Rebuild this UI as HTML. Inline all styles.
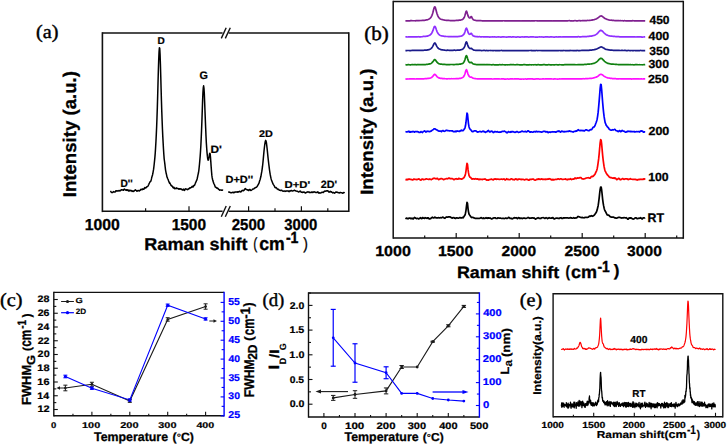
<!DOCTYPE html>
<html><head><meta charset="utf-8"><style>
html,body{margin:0;padding:0;background:#fff;width:727px;height:445px;overflow:hidden}
svg{display:block} text{text-rendering:geometricPrecision}
</style></head><body>
<svg width="727" height="445" viewBox="0 0 727 445">
<rect width="727" height="445" fill="#fff"/>
<line x1="102.4" y1="32.2" x2="102.4" y2="212.1" stroke="#111" stroke-width="1.6" stroke-linecap="butt"/>
<line x1="348.8" y1="32.2" x2="348.8" y2="212.1" stroke="#111" stroke-width="1.6" stroke-linecap="butt"/>
<line x1="102.4" y1="33" x2="222.6" y2="33" stroke="#111" stroke-width="1.6" stroke-linecap="butt"/>
<line x1="228.6" y1="33" x2="348.8" y2="33" stroke="#111" stroke-width="1.6" stroke-linecap="butt"/>
<line x1="102.4" y1="211.3" x2="222.6" y2="211.3" stroke="#111" stroke-width="1.6" stroke-linecap="butt"/>
<line x1="228.6" y1="211.3" x2="348.8" y2="211.3" stroke="#111" stroke-width="1.6" stroke-linecap="butt"/>
<line x1="221.3" y1="38.4" x2="226.2" y2="27.7" stroke="#111" stroke-width="1.4" stroke-linecap="butt"/>
<line x1="225.3" y1="38.4" x2="230.3" y2="27.7" stroke="#111" stroke-width="1.4" stroke-linecap="butt"/>
<line x1="221.3" y1="216.7" x2="226.2" y2="206" stroke="#111" stroke-width="1.4" stroke-linecap="butt"/>
<line x1="225.3" y1="216.7" x2="230.3" y2="206" stroke="#111" stroke-width="1.4" stroke-linecap="butt"/>
<line x1="145.6" y1="211.3" x2="145.6" y2="208.3" stroke="#111" stroke-width="1.2" stroke-linecap="butt"/>
<line x1="189" y1="211.3" x2="189" y2="206.3" stroke="#111" stroke-width="1.2" stroke-linecap="butt"/>
<line x1="248.6" y1="211.3" x2="248.6" y2="206.3" stroke="#111" stroke-width="1.2" stroke-linecap="butt"/>
<line x1="275" y1="211.3" x2="275" y2="208.3" stroke="#111" stroke-width="1.2" stroke-linecap="butt"/>
<line x1="301.4" y1="211.3" x2="301.4" y2="206.3" stroke="#111" stroke-width="1.2" stroke-linecap="butt"/>
<line x1="327.8" y1="211.3" x2="327.8" y2="208.3" stroke="#111" stroke-width="1.2" stroke-linecap="butt"/>
<g id="a_t1000" transform="matrix(1.05 0 0 1.06 84.71 229.75)"><text x="0" y="0" font-size="15" font-weight="bold" fill="#000" font-family='"Liberation Sans", sans-serif' stroke="#000" stroke-width="0.3">1000</text></g>
<g id="a_t1500" transform="matrix(1.03 0 0 1.06 171.63 229.75)"><text x="0" y="0" font-size="15" font-weight="bold" fill="#000" font-family='"Liberation Sans", sans-serif' stroke="#000" stroke-width="0.3">1500</text></g>
<g id="a_t2500" transform="matrix(1 0 0 1.06 231.73 229.75)"><text x="0" y="0" font-size="15" font-weight="bold" fill="#000" font-family='"Liberation Sans", sans-serif' stroke="#000" stroke-width="0.3">2500</text></g>
<g id="a_t3000" transform="matrix(0.99 0 0 1.06 284.29 229.75)"><text x="0" y="0" font-size="15" font-weight="bold" fill="#000" font-family='"Liberation Sans", sans-serif' stroke="#000" stroke-width="0.3">3000</text></g>
<g id="a_xl1" transform="matrix(1.06 0 0 1.01 144.35 250.28)"><text x="0" y="0" font-size="17" font-weight="bold" fill="#000" font-family='"Liberation Sans", sans-serif' stroke="#000" stroke-width="0.3">Raman shift</text></g>
<g id="a_xl2" transform="matrix(0.72 0 0 0.95 253.28 249.32)"><text x="0" y="0" font-size="17" font-weight="normal" fill="#000" font-family='"Liberation Sans", sans-serif' stroke="#000" stroke-width="0.3">(</text></g>
<g id="a_xl3" transform="matrix(1.04 0 0 1.09 259.18 250.32)"><text x="0" y="0" font-size="17" font-weight="bold" fill="#000" font-family='"Liberation Sans", sans-serif' stroke="#000" stroke-width="0.3">cm</text></g>
<g id="a_xl4" transform="matrix(1.09 0 0 1.25 285.89 243.29)"><text x="0" y="0" font-size="13" font-weight="bold" fill="#000" font-family='"Liberation Sans", sans-serif' stroke="#000" stroke-width="0.3">-1</text></g>
<g id="a_xl5" transform="matrix(0.82 0 0 0.96 303.16 249.39)"><text x="0" y="0" font-size="17" font-weight="normal" fill="#000" font-family='"Liberation Sans", sans-serif' stroke="#000" stroke-width="0.3">)</text></g>
<g id="a_yl" transform="matrix(0.97 0 0 0.98 76.39 197.23)"><text x="0" y="0" transform="rotate(-90)" font-size="19" font-weight="bold" fill="#000" font-family='"Liberation Sans", sans-serif' stroke="#000" stroke-width="0.3">Intensity (a.u.)</text></g>
<g id="a_lab" transform="matrix(1.01 0 0 0.95 36.06 38.15)"><text x="0" y="0" font-size="20" font-weight="normal" fill="#000" font-family='"Liberation Serif", serif' stroke="#000" stroke-width="0.45">(a)</text></g>
<polyline points="110.36,191.02 110.7,191.33 111.04,191.82 111.39,192.43 111.73,192.42 112.07,192.46 112.42,192.52 112.76,192.46 113.1,192.14 113.44,191.62 113.79,191.86 114.13,191.86 114.47,191.98 114.81,192.09 115.16,191.92 115.5,191.78 115.84,190.76 116.19,190.8 116.53,190.86 116.87,191.1 117.21,191.04 117.56,190.71 117.9,191.04 118.24,190.97 118.59,190.86 118.93,190.51 119.27,190.45 119.61,190.88 119.96,190.85 120.3,190.76 120.64,190.21 120.99,190.16 121.33,189.8 121.67,189.89 122.01,189.79 122.36,189.8 122.7,189.97 123.04,190.05 123.39,190.29 123.73,189.48 124.07,189.38 124.41,189.09 124.76,189.44 125.1,189.52 125.44,190.11 125.79,190.08 126.13,190.18 126.47,189.68 126.81,190.32 127.16,190.41 127.5,190.34 127.84,189.73 128.19,190.01 128.53,190.72 128.87,191.15 129.21,190.69 129.56,190.36 129.9,190.31 130.24,190.78 130.59,190.7 130.93,190.52 131.27,190.4 131.61,190.92 131.96,191.4 132.3,191.1 132.64,191.18 132.99,191.01 133.33,191.44 133.67,191.03 134.01,191.05 134.36,190.79 134.7,190.36 135.04,190.17 135.39,189.81 135.73,190.19 136.07,190.38 136.41,190.58 136.76,191.22 137.1,191.06 137.44,191.07 137.79,190.62 138.13,190.44 138.47,190.56 138.81,190.8 139.16,190.9 139.5,190.94 139.84,190.38 140.19,190.28 140.53,189.64 140.87,189.39 141.21,189.26 141.56,189.37 141.9,189.74 142.24,189.31 142.59,189.55 142.93,188.85 143.27,189.31 143.61,189.13 143.96,189.18 144.3,188.25 144.64,187.65 144.99,187.5 145.33,187.84 145.67,188.07 146.01,187.69 146.36,187.5 146.7,186.75 147.04,186.77 147.39,186.38 147.73,186.42 148.07,185.87 148.41,185.18 148.76,184.48 149.1,183.65 149.44,182.98 149.79,182.12 150.13,181.94 150.47,181.36 150.81,181.27 151.16,180.03 151.5,178.67 151.84,177.15 152.19,175.95 152.53,174.95 152.87,173.27 153.21,171.33 153.56,169.45 153.9,166.77 154.24,163.77 154.59,160.43 154.93,156.89 155.27,152.61 155.61,147.24 155.96,141.31 156.3,134.4 156.64,126.69 156.98,117.81 157.33,107.61 157.67,95.7 158.01,82.9 158.36,70.56 158.7,60.07 159.04,52.13 159.38,47.81 159.73,48.29 160.07,54.21 160.41,63.99 160.76,76.23 161.1,88.68 161.44,100.71 161.78,111.53 162.13,121.01 162.47,129.5 162.81,136.87 163.16,143.28 163.5,149.29 163.84,154.54 164.18,158.82 164.53,161.52 164.87,164.18 165.21,167.21 165.56,170.1 165.9,171.83 166.24,173.55 166.58,174.94 166.93,176.81 167.27,177.44 167.61,178.53 167.96,179.26 168.3,179.94 168.64,181.01 168.98,181.96 169.33,182.63 169.67,183.32 170.01,183.12 170.36,184.07 170.7,184.54 171.04,185.49 171.38,185.81 171.73,185.84 172.07,186.19 172.41,186.24 172.76,187.13 173.1,187.46 173.44,188.02 173.78,187.19 174.13,187.74 174.47,187.94 174.81,188.84 175.16,188.66 175.5,188.55 175.84,188.3 176.18,187.89 176.53,188.31 176.87,188.45 177.21,188.61 177.56,188.32 177.9,188.56 178.24,188.64 178.58,189.17 178.93,188.69 179.27,188.99 179.61,188.84 179.96,189.27 180.3,189.14 180.64,188.71 180.98,188.84 181.33,189.17 181.67,189.49 182.01,189.68 182.36,190.03 182.7,189.97 183.04,189.85 183.38,189.15 183.73,189.61 184.07,190.23 184.41,190.42 184.76,190.11 185.1,188.96 185.44,188.87 185.78,188.79 186.13,189.01 186.47,189.18 186.81,189.19 187.16,189.61 187.5,189.32 187.84,189.47 188.18,189.16 188.53,189.03 188.87,188.5 189.21,188.53 189.56,188.09 189.9,188.34 190.24,187.74 190.58,187.85 190.93,187.47 191.27,187.45 191.61,187.04 191.96,186.65 192.3,186.34 192.64,186.98 192.98,187.1 193.33,186.59 193.67,185.73 194.01,185.39 194.36,185.4 194.7,185.04 195.04,184.09 195.38,183.23 195.73,182.23 196.07,181.84 196.41,180.83 196.75,180.23 197.1,178.99 197.44,177.53 197.78,175.93 198.13,174.21 198.47,172.75 198.81,170.6 199.15,167.52 199.5,164.01 199.84,160.07 200.18,156.08 200.53,151.05 200.87,145.22 201.21,138.12 201.55,130.2 201.9,121.14 202.24,111.22 202.58,101.38 202.93,92.79 203.27,87.92 203.61,85.82 203.95,88 204.3,93.28 204.64,101.86 204.98,111.01 205.33,119.9 205.67,128.31 206.01,136.18 206.35,142.95 206.7,148.31 207.04,152.66 207.38,156.16 207.73,158.82 208.07,160.13 208.41,160.06 208.75,158.45 209.1,156.83 209.44,154.35 209.78,153.32 210.13,153.71 210.47,157.02 210.81,161.62 211.15,166.62 211.5,171.23 211.84,175.17 212.18,177.7 212.53,179.26 212.87,180.58 213.21,181.67 213.55,182.87 213.9,183.58 214.24,184.23 214.58,185.08 214.93,185.94 215.27,186.99 215.61,187.15 215.95,187.42 216.3,187.54 216.64,187.87 216.98,188.25 217.33,187.98 217.67,188.25 218.01,188.39 218.35,189.18 218.7,189.26 219.04,189.58 219.38,189.74 219.73,190.15 220.07,189.93 220.41,189.89 220.75,189.91 221.1,190.15 221.44,190.29 221.78,190.16 222.13,190 222.47,190.16 222.81,190.13 223.15,190.21" fill="none" stroke="#000" stroke-width="1.5" stroke-linejoin="round"/>
<polyline points="228.22,191.82 228.61,191.89 229,192.32 229.39,192.01 229.78,192.35 230.17,192.45 230.56,192.75 230.95,192.67 231.34,192.74 231.73,192.68 232.11,192.5 232.5,192.49 232.89,192.29 233.28,192.32 233.67,192.75 234.06,192.57 234.45,192.52 234.84,192 235.23,192.15 235.62,192 236.01,191.81 236.4,191.99 236.79,191.96 237.18,192.24 237.57,191.73 237.96,191.97 238.35,191.65 238.74,191.87 239.13,191.51 239.52,191.44 239.91,191.26 240.3,191.93 240.68,191.82 241.07,191.86 241.46,191.11 241.85,190.62 242.24,190.61 242.63,190.35 243.02,190.84 243.41,190.36 243.8,190.44 244.19,190.11 244.58,189.49 244.97,188.86 245.36,188.45 245.75,188.86 246.14,189.33 246.53,189.63 246.92,189.71 247.31,189.98 247.7,189.84 248.09,190.39 248.48,190.03 248.87,190.38 249.26,189.72 249.64,189.56 250.03,189.43 250.42,190.15 250.81,190.48 251.2,190.32 251.59,190.06 251.98,189.75 252.37,189.42 252.76,189.1 253.15,189.1 253.54,188.97 253.93,188.82 254.32,188.34 254.71,188.32 255.1,187.67 255.49,187.59 255.88,187.41 256.27,187.34 256.66,186.99 257.05,186.49 257.44,186 257.83,185.12 258.21,184.69 258.6,183.91 258.99,183.22 259.38,181.82 259.77,180.51 260.16,179.44 260.55,177.78 260.94,176.26 261.33,173.99 261.72,171.89 262.11,169.3 262.5,166.46 262.89,162.99 263.28,158.82 263.67,154.58 264.06,150.49 264.45,146.98 264.84,144.02 265.23,141.74 265.62,140.37 266.01,140.93 266.4,142.65 266.79,145.75 267.17,149.05 267.56,153.02 267.95,156.93 268.34,160.34 268.73,163.74 269.12,166.83 269.51,169.99 269.9,172.52 270.29,174.94 270.68,176.79 271.07,178.65 271.46,179.94 271.85,180.93 272.24,181.93 272.63,182.94 273.02,183.93 273.41,184.62 273.8,185.12 274.19,185.76 274.58,186.51 274.97,187.36 275.36,187.68 275.74,187.68 276.13,187.58 276.52,187.98 276.91,188.33 277.3,189.12 277.69,189.12 278.08,189.55 278.47,189.21 278.86,189.89 279.25,190 279.64,190.33 280.03,190.31 280.42,190.45 280.81,190.41 281.2,190.29 281.59,190.17 281.98,190.51 282.37,190.89 282.76,191.14 283.15,191.25 283.54,191.15 283.93,190.96 284.32,190.94 284.7,191.15 285.09,191.47 285.48,191.21 285.87,191.05 286.26,190.91 286.65,191.13 287.04,191.06 287.43,191.09 287.82,190.92 288.21,190.87 288.6,191.46 288.99,191.7 289.38,191.24 289.77,190.89 290.16,190.78 290.55,191.09 290.94,190.75 291.33,190.42 291.72,190.78 292.11,190.91 292.5,191.1 292.89,190.88 293.27,190.75 293.66,190.55 294.05,190.35 294.44,190.18 294.83,190.47 295.22,190.61 295.61,190.79 296,191.01 296.39,191.11 296.78,191.16 297.17,191.13 297.56,191.21 297.95,191.61 298.34,191.75 298.73,192.07 299.12,191.65 299.51,191.58 299.9,191.11 300.29,191.11 300.68,191.33 301.07,192.01 301.46,192.27 301.85,192.28 302.23,192.12 302.62,192.46 303.01,192.3 303.4,192.26 303.79,191.99 304.18,192.06 304.57,192.3 304.96,192.84 305.35,192.97 305.74,192.93 306.13,192.61 306.52,192.37 306.91,192.28 307.3,191.88 307.69,192.05 308.08,191.9 308.47,192.11 308.86,191.99 309.25,192.39 309.64,192.28 310.03,192.42 310.42,192.37 310.8,192.48 311.19,192.43 311.58,191.99 311.97,191.97 312.36,191.97 312.75,192.56 313.14,192.37 313.53,192.15 313.92,191.67 314.31,191.92 314.7,191.97 315.09,192.3 315.48,192.25 315.87,192.49 316.26,192.52 316.65,192.59 317.04,192.52 317.43,191.97 317.82,191.85 318.21,192.24 318.6,192.97 318.99,193.16 319.37,192.87 319.76,192.66 320.15,192.92 320.54,192.9 320.93,192.92 321.32,192.74 321.71,192.49 322.1,192.17 322.49,192.14 322.88,192.47 323.27,192.48 323.66,191.89 324.05,191.64 324.44,191.11 324.83,191.43 325.22,191.16 325.61,191.13 326,190.91 326.39,190.69 326.78,191.05 327.17,190.84 327.56,190.8 327.95,190.89 328.33,191.22 328.72,191.75 329.11,192.23 329.5,191.87 329.89,191.78 330.28,191.28 330.67,191.83 331.06,191.99 331.45,191.73 331.84,192.22 332.23,192.35 332.62,192.94 333.01,192.65 333.4,192.47 333.79,192.55 334.18,192.79 334.57,193.17 334.96,192.95 335.35,192.5 335.74,192.13 336.13,191.91 336.52,192.21 336.9,192.18 337.29,192.37 337.68,192.31 338.07,192.66 338.46,192.63 338.85,192.74 339.24,192.65 339.63,193.02 340.02,192.54 340.41,192.5 340.8,192.41 341.19,192.81 341.58,192.85 341.97,192.73 342.36,193.03 342.75,193.22 343.14,193.14 343.53,192.58 343.92,192.55 344.31,192.64 344.7,192.94" fill="none" stroke="#000" stroke-width="1.5" stroke-linejoin="round"/>
<g id="a_pD" transform="matrix(0.96 0 0 0.94 157.49 43.71)"><text x="0" y="0" font-size="10.5" font-weight="bold" fill="#000" font-family='"Liberation Sans", sans-serif' stroke="#000" stroke-width="0.22">D</text></g>
<g id="a_pG" transform="matrix(1.03 0 0 1.04 199.48 79.03)"><text x="0" y="0" font-size="10.5" font-weight="bold" fill="#000" font-family='"Liberation Sans", sans-serif' stroke="#000" stroke-width="0.22">G</text></g>
<g id="a_pDpp" transform="matrix(0.97 0 0 1.01 120.38 187.45)"><text x="0" y="0" font-size="10.5" font-weight="bold" fill="#000" font-family='"Liberation Sans", sans-serif' stroke="#000" stroke-width="0.22">D''</text></g>
<g id="a_pDp" transform="matrix(1.13 0 0 1.01 210.38 153.42)"><text x="0" y="0" font-size="10.5" font-weight="bold" fill="#000" font-family='"Liberation Sans", sans-serif' stroke="#000" stroke-width="0.22">D'</text></g>
<g id="a_p2D" transform="matrix(1.03 0 0 0.91 258.97 137.11)"><text x="0" y="0" font-size="10.5" font-weight="bold" fill="#000" font-family='"Liberation Sans", sans-serif' stroke="#000" stroke-width="0.22">2D</text></g>
<g id="a_pDDpp" transform="matrix(1.05 0 0 0.99 225.44 182.76)"><text x="0" y="0" font-size="10.5" font-weight="bold" fill="#000" font-family='"Liberation Sans", sans-serif' stroke="#000" stroke-width="0.22">D+D''</text></g>
<g id="a_pDDp" transform="matrix(1.08 0 0 0.94 284.54 188.32)"><text x="0" y="0" font-size="10.5" font-weight="bold" fill="#000" font-family='"Liberation Sans", sans-serif' stroke="#000" stroke-width="0.22">D+D'</text></g>
<g id="a_p2Dp" transform="matrix(1.03 0 0 1.01 320.75 187.76)"><text x="0" y="0" font-size="10.5" font-weight="bold" fill="#000" font-family='"Liberation Sans", sans-serif' stroke="#000" stroke-width="0.22">2D'</text></g>
<line x1="393.2" y1="0.8" x2="393.2" y2="238.8" stroke="#111" stroke-width="1.5" stroke-linecap="butt"/>
<line x1="683.3" y1="0.8" x2="683.3" y2="238.8" stroke="#111" stroke-width="1.5" stroke-linecap="butt"/>
<line x1="393.2" y1="1.6" x2="683.3" y2="1.6" stroke="#111" stroke-width="1.5" stroke-linecap="butt"/>
<line x1="393.2" y1="238" x2="683.3" y2="238" stroke="#111" stroke-width="1.5" stroke-linecap="butt"/>
<line x1="424.7" y1="238" x2="424.7" y2="235.5" stroke="#111" stroke-width="1.2" stroke-linecap="butt"/>
<line x1="456.2" y1="238" x2="456.2" y2="233" stroke="#111" stroke-width="1.2" stroke-linecap="butt"/>
<line x1="487.7" y1="238" x2="487.7" y2="235.5" stroke="#111" stroke-width="1.2" stroke-linecap="butt"/>
<line x1="519.2" y1="238" x2="519.2" y2="233" stroke="#111" stroke-width="1.2" stroke-linecap="butt"/>
<line x1="550.7" y1="238" x2="550.7" y2="235.5" stroke="#111" stroke-width="1.2" stroke-linecap="butt"/>
<line x1="582.2" y1="238" x2="582.2" y2="233" stroke="#111" stroke-width="1.2" stroke-linecap="butt"/>
<line x1="613.7" y1="238" x2="613.7" y2="235.5" stroke="#111" stroke-width="1.2" stroke-linecap="butt"/>
<line x1="645.2" y1="238" x2="645.2" y2="233" stroke="#111" stroke-width="1.2" stroke-linecap="butt"/>
<line x1="676.7" y1="238" x2="676.7" y2="235.5" stroke="#111" stroke-width="1.2" stroke-linecap="butt"/>
<g id="b_t1000" transform="matrix(1.07 0 0 0.97 375.18 256.07)"><text x="0" y="0" font-size="15" font-weight="bold" fill="#000" font-family='"Liberation Sans", sans-serif' stroke="#000" stroke-width="0.3">1000</text></g>
<g id="b_t1500" transform="matrix(1.06 0 0 0.97 437.92 256.07)"><text x="0" y="0" font-size="15" font-weight="bold" fill="#000" font-family='"Liberation Sans", sans-serif' stroke="#000" stroke-width="0.3">1500</text></g>
<g id="b_t2000" transform="matrix(1.04 0 0 0.97 501.49 256.07)"><text x="0" y="0" font-size="15" font-weight="bold" fill="#000" font-family='"Liberation Sans", sans-serif' stroke="#000" stroke-width="0.3">2000</text></g>
<g id="b_t2500" transform="matrix(1.05 0 0 0.97 564.44 256.07)"><text x="0" y="0" font-size="15" font-weight="bold" fill="#000" font-family='"Liberation Sans", sans-serif' stroke="#000" stroke-width="0.3">2500</text></g>
<g id="b_t3000" transform="matrix(1.04 0 0 0.97 627.1 256.07)"><text x="0" y="0" font-size="15" font-weight="bold" fill="#000" font-family='"Liberation Sans", sans-serif' stroke="#000" stroke-width="0.3">3000</text></g>
<g id="b_xl1" transform="matrix(1.05 0 0 0.98 456.95 278.08)"><text x="0" y="0" font-size="17" font-weight="bold" fill="#000" font-family='"Liberation Sans", sans-serif' stroke="#000" stroke-width="0.3">Raman shift</text></g>
<g id="b_xl2" transform="matrix(0.8 0 0 0.95 565.43 276.82)"><text x="0" y="0" font-size="17" font-weight="bold" fill="#000" font-family='"Liberation Sans", sans-serif' stroke="#000" stroke-width="0.3">(</text></g>
<g id="b_xl3" transform="matrix(1.06 0 0 1.05 571.03 277.82)"><text x="0" y="0" font-size="17" font-weight="bold" fill="#000" font-family='"Liberation Sans", sans-serif' stroke="#000" stroke-width="0.3">cm</text></g>
<g id="b_xl4" transform="matrix(1.07 0 0 1.23 597.49 272.01)"><text x="0" y="0" font-size="13" font-weight="bold" fill="#000" font-family='"Liberation Sans", sans-serif' stroke="#000" stroke-width="0.3">-1</text></g>
<g id="b_xl5" transform="matrix(1.01 0 0 0.97 613.87 276.45)"><text x="0" y="0" font-size="17" font-weight="bold" fill="#000" font-family='"Liberation Sans", sans-serif' stroke="#000" stroke-width="0.3">)</text></g>
<g id="b_yl" transform="matrix(0.94 0 0 0.98 372.74 194.83)"><text x="0" y="0" transform="rotate(-90)" font-size="19" font-weight="bold" fill="#000" font-family='"Liberation Sans", sans-serif' stroke="#000" stroke-width="0.3">Intensity (a.u.)</text></g>
<g id="b_lab" transform="matrix(1.05 0 0 1 364.19 39.53)"><text x="0" y="0" font-size="20" font-weight="normal" fill="#000" font-family='"Liberation Serif", serif' stroke="#000" stroke-width="0.45">(b)</text></g>
<polyline points="405.42,20.88 405.92,20.87 406.42,20.85 406.92,20.8 407.42,20.84 407.92,20.83 408.43,20.87 408.93,20.84 409.43,20.83 409.93,20.81 410.43,20.69 410.93,20.67 411.43,20.66 411.93,20.71 412.43,20.75 412.93,20.76 413.43,20.77 413.93,20.74 414.43,20.75 414.93,20.77 415.43,20.79 415.93,20.71 416.43,20.64 416.94,20.49 417.44,20.53 417.94,20.56 418.44,20.64 418.94,20.6 419.44,20.57 419.94,20.52 420.44,20.52 420.94,20.55 421.44,20.49 421.94,20.47 422.44,20.35 422.94,20.37 423.44,20.31 423.94,20.35 424.44,20.32 424.94,20.24 425.45,20.09 425.95,19.98 426.45,19.89 426.95,19.85 427.45,19.7 427.95,19.56 428.45,19.33 428.95,19.07 429.45,18.75 429.95,18.36 430.45,17.9 430.95,17.27 431.45,16.44 431.95,15.37 432.45,14.02 432.95,12.3 433.45,10.29 433.96,8.3 434.46,6.98 434.96,6.85 435.46,7.94 435.96,9.78 436.46,11.7 436.96,13.49 437.46,14.91 437.96,16.1 438.46,16.98 438.96,17.7 439.46,18.26 439.96,18.67 440.46,19 440.96,19.23 441.46,19.42 441.96,19.51 442.46,19.63 442.97,19.8 443.47,19.93 443.97,19.99 444.47,20.03 444.97,20.15 445.47,20.25 445.97,20.28 446.47,20.33 446.97,20.35 447.47,20.38 447.97,20.33 448.47,20.38 448.97,20.45 449.47,20.51 449.97,20.54 450.47,20.54 450.97,20.57 451.48,20.52 451.98,20.57 452.48,20.56 452.98,20.61 453.48,20.57 453.98,20.63 454.48,20.57 454.98,20.57 455.48,20.48 455.98,20.45 456.48,20.43 456.98,20.4 457.48,20.41 457.98,20.35 458.48,20.3 458.98,20.21 459.48,20.18 459.99,20.17 460.49,20.1 460.99,20.02 461.49,19.83 461.99,19.65 462.49,19.41 462.99,19.05 463.49,18.56 463.99,17.81 464.49,16.82 464.99,15.32 465.49,13.42 465.99,11.68 466.49,11.16 466.99,12.24 467.49,14.04 467.99,15.63 468.5,16.83 469,17.52 469.5,17.99 470,18.01 470.5,17.53 471,16.63 471.5,16.6 472,17.69 472.5,18.7 473,19.26 473.5,19.8 474,20.04 474.5,20.21 475,20.26 475.5,20.39 476,20.51 476.5,20.6 477,20.62 477.51,20.56 478.01,20.53 478.51,20.56 479.01,20.61 479.51,20.63 480.01,20.59 480.51,20.61 481.01,20.69 481.51,20.76 482.01,20.78 482.51,20.78 483.01,20.84 483.51,20.81 484.01,20.81 484.51,20.78 485.01,20.84 485.51,20.78 486.02,20.8 486.52,20.79 487.02,20.88 487.52,20.91 488.02,20.86 488.52,20.85 489.02,20.78 489.52,20.8 490.02,20.76 490.52,20.79 491.02,20.8 491.52,20.78 492.02,20.79 492.52,20.83 493.02,20.88 493.52,20.84 494.02,20.83 494.53,20.82 495.03,20.88 495.53,20.81 496.03,20.84 496.53,20.79 497.03,20.86 497.53,20.83 498.03,20.91 498.53,20.87 499.03,20.9 499.53,20.91 500.03,20.91 500.53,20.92 501.03,20.85 501.53,20.94 502.03,20.86 502.53,20.89 503.04,20.74 503.54,20.77 504.04,20.77 504.54,20.83 505.04,20.87 505.54,20.85 506.04,20.85 506.54,20.88 507.04,20.91 507.54,20.89 508.04,20.84 508.54,20.82 509.04,20.82 509.54,20.9 510.04,20.91 510.54,20.87 511.04,20.78 511.55,20.8 512.05,20.88 512.55,20.92 513.05,20.85 513.55,20.82 514.05,20.79 514.55,20.85 515.05,20.82 515.55,20.87 516.05,20.94 516.55,20.97 517.05,20.93 517.55,20.95 518.05,20.95 518.55,20.95 519.05,20.87 519.55,20.87 520.05,20.94 520.56,20.97 521.06,20.99 521.56,20.9 522.06,20.87 522.56,20.82 523.06,20.89 523.56,20.95 524.06,20.95 524.56,20.9 525.06,20.83 525.56,20.85 526.06,20.87 526.56,20.88 527.06,20.89 527.56,20.88 528.06,20.87 528.56,20.79 529.07,20.79 529.57,20.87 530.07,20.94 530.57,21.03 531.07,20.95 531.57,20.88 532.07,20.77 532.57,20.83 533.07,20.92 533.57,20.94 534.07,20.9 534.57,20.84 535.07,20.78 535.57,20.73 536.07,20.74 536.57,20.74 537.07,20.89 537.58,20.94 538.08,20.98 538.58,20.93 539.08,20.9 539.58,20.9 540.08,20.84 540.58,20.82 541.08,20.82 541.58,20.85 542.08,20.84 542.58,20.81 543.08,20.82 543.58,20.82 544.08,20.85 544.58,20.84 545.08,20.89 545.58,20.92 546.09,20.93 546.59,20.88 547.09,20.84 547.59,20.8 548.09,20.82 548.59,20.87 549.09,20.89 549.59,20.95 550.09,20.88 550.59,20.84 551.09,20.8 551.59,20.85 552.09,20.98 552.59,20.95 553.09,20.95 553.59,20.87 554.09,20.84 554.59,20.83 555.1,20.8 555.6,20.78 556.1,20.79 556.6,20.8 557.1,20.88 557.6,20.92 558.1,20.99 558.6,20.89 559.1,20.86 559.6,20.85 560.1,20.92 560.6,20.88 561.1,20.82 561.6,20.78 562.1,20.78 562.6,20.82 563.1,20.88 563.61,20.91 564.11,20.92 564.61,20.91 565.11,20.87 565.61,20.81 566.11,20.77 566.61,20.78 567.11,20.78 567.61,20.83 568.11,20.77 568.61,20.77 569.11,20.67 569.61,20.72 570.11,20.78 570.61,20.78 571.11,20.79 571.61,20.78 572.12,20.91 572.62,20.97 573.12,20.93 573.62,20.83 574.12,20.77 574.62,20.72 575.12,20.74 575.62,20.69 576.12,20.78 576.62,20.81 577.12,20.86 577.62,20.8 578.12,20.76 578.62,20.72 579.12,20.72 579.62,20.72 580.12,20.7 580.63,20.79 581.13,20.76 581.63,20.74 582.13,20.61 582.63,20.62 583.13,20.65 583.63,20.71 584.13,20.67 584.63,20.65 585.13,20.57 585.63,20.57 586.13,20.56 586.63,20.56 587.13,20.5 587.63,20.44 588.13,20.47 588.63,20.48 589.13,20.46 589.64,20.36 590.14,20.32 590.64,20.24 591.14,20.21 591.64,20.14 592.14,20.06 592.64,19.94 593.14,19.83 593.64,19.75 594.14,19.6 594.64,19.43 595.14,19.25 595.64,19.15 596.14,19 596.64,18.77 597.14,18.41 597.64,18.06 598.15,17.7 598.65,17.3 599.15,16.88 599.65,16.48 600.15,16.2 600.65,16.02 601.15,15.96 601.65,16.04 602.15,16.29 602.65,16.69 603.15,17.11 603.65,17.53 604.15,17.9 604.65,18.29 605.15,18.61 605.65,18.82 606.15,19.02 606.66,19.17 607.16,19.36 607.66,19.53 608.16,19.77 608.66,19.91 609.16,19.99 609.66,20.06 610.16,20.18 610.66,20.23 611.16,20.22 611.66,20.21 612.16,20.33 612.66,20.37 613.16,20.44 613.66,20.42 614.16,20.52 614.66,20.55 615.17,20.67 615.67,20.68 616.17,20.71 616.67,20.66 617.17,20.66 617.67,20.68 618.17,20.68 618.67,20.68 619.17,20.71 619.67,20.73 620.17,20.69 620.67,20.66 621.17,20.73 621.67,20.74 622.17,20.72 622.67,20.76 623.17,20.8 623.68,20.85 624.18,20.7 624.68,20.71 625.18,20.74 625.68,20.8 626.18,20.77 626.68,20.79 627.18,20.82 627.68,20.87 628.18,20.78 628.68,20.77 629.18,20.79 629.68,20.81 630.18,20.83 630.68,20.86 631.18,20.91 631.68,20.89 632.18,20.8 632.69,20.69 633.19,20.72 633.69,20.73 634.19,20.86 634.69,20.82 635.19,20.88 635.69,20.86 636.19,20.89 636.69,20.88 637.19,20.76 637.69,20.8 638.19,20.83 638.69,20.94 639.19,20.88 639.69,20.87 640.19,20.82 640.69,20.82 641.2,20.84 641.7,20.86 642.2,20.9 642.7,20.83 643.2,20.84 643.7,20.82 644.2,20.85 644.7,20.84 645.2,20.86" fill="none" stroke="#7f1f8f" stroke-width="1.7" stroke-linejoin="round"/>
<g id="b_s450" transform="matrix(0.96 0 0 0.94 649.46 24.47)"><text x="0" y="0" font-size="12.5" font-weight="bold" fill="#000" font-family='"Liberation Sans", sans-serif' stroke="#000" stroke-width="0.3">450</text></g>
<polyline points="405.42,36.97 405.92,36.92 406.42,36.89 406.92,36.95 407.42,36.98 407.92,36.94 408.43,36.86 408.93,36.9 409.43,36.95 409.93,36.96 410.43,36.9 410.93,36.8 411.43,36.79 411.93,36.8 412.43,36.86 412.93,36.8 413.43,36.8 413.93,36.81 414.43,36.93 414.93,36.91 415.43,36.87 415.93,36.84 416.43,36.83 416.94,36.82 417.44,36.78 417.94,36.73 418.44,36.72 418.94,36.79 419.44,36.79 419.94,36.82 420.44,36.75 420.94,36.81 421.44,36.74 421.94,36.74 422.44,36.65 422.94,36.51 423.44,36.46 423.94,36.4 424.44,36.51 424.94,36.47 425.45,36.42 425.95,36.31 426.45,36.21 426.95,36.14 427.45,36.06 427.95,35.93 428.45,35.8 428.95,35.52 429.45,35.32 429.95,34.98 430.45,34.67 430.95,34.14 431.45,33.57 431.95,32.74 432.45,31.75 432.95,30.41 433.45,28.94 433.96,27.45 434.46,26.49 434.96,26.33 435.46,27.13 435.96,28.44 436.46,30 436.96,31.34 437.46,32.48 437.96,33.31 438.46,33.99 438.96,34.51 439.46,34.93 439.96,35.29 440.46,35.56 440.96,35.72 441.46,35.79 441.96,35.88 442.46,35.98 442.97,36.09 443.47,36.18 443.97,36.28 444.47,36.33 444.97,36.34 445.47,36.4 445.97,36.49 446.47,36.51 446.97,36.52 447.47,36.49 447.97,36.55 448.47,36.61 448.97,36.57 449.47,36.56 449.97,36.52 450.47,36.59 450.97,36.65 451.48,36.69 451.98,36.72 452.48,36.72 452.98,36.65 453.48,36.62 453.98,36.63 454.48,36.61 454.98,36.65 455.48,36.62 455.98,36.61 456.48,36.58 456.98,36.65 457.48,36.69 457.98,36.64 458.48,36.53 458.98,36.4 459.48,36.39 459.99,36.34 460.49,36.28 460.99,36.14 461.49,36.08 461.99,35.89 462.49,35.57 462.99,35.12 463.49,34.71 463.99,34.15 464.49,33.23 464.99,31.8 465.49,30.11 465.99,28.55 466.49,28.06 466.99,29.03 467.49,30.6 467.99,32.17 468.5,33.27 469,34 469.5,34.28 470,34.26 470.5,33.87 471,33.28 471.5,33.3 472,34.31 472.5,35.17 473,35.68 473.5,36 474,36.17 474.5,36.33 475,36.43 475.5,36.53 476,36.58 476.5,36.58 477,36.64 477.51,36.7 478.01,36.8 478.51,36.75 479.01,36.71 479.51,36.69 480.01,36.78 480.51,36.88 481.01,36.88 481.51,36.87 482.01,36.76 482.51,36.77 483.01,36.81 483.51,36.97 484.01,36.94 484.51,36.91 485.01,36.89 485.51,36.93 486.02,37 486.52,36.83 487.02,36.81 487.52,36.74 488.02,36.86 488.52,36.97 489.02,37 489.52,37.05 490.02,36.96 490.52,37.03 491.02,37.01 491.52,36.99 492.02,36.87 492.52,36.88 493.02,36.97 493.52,37 494.02,36.93 494.53,36.92 495.03,36.97 495.53,37.02 496.03,37.03 496.53,37.03 497.03,36.97 497.53,36.91 498.03,36.82 498.53,36.86 499.03,36.89 499.53,36.99 500.03,36.99 500.53,37.03 501.03,37.06 501.53,37.04 502.03,36.94 502.53,36.86 503.04,36.84 503.54,36.88 504.04,36.93 504.54,36.97 505.04,36.99 505.54,37.01 506.04,37.07 506.54,37.1 507.04,37.07 507.54,37.01 508.04,36.97 508.54,36.93 509.04,36.93 509.54,36.89 510.04,36.9 510.54,36.93 511.04,37.02 511.55,37.03 512.05,37.03 512.55,36.92 513.05,36.93 513.55,36.88 514.05,36.9 514.55,36.98 515.05,36.99 515.55,37.03 516.05,36.99 516.55,37.03 517.05,36.98 517.55,36.93 518.05,36.88 518.55,36.96 519.05,37.01 519.55,37.12 520.05,37.07 520.56,37.03 521.06,36.98 521.56,36.97 522.06,36.98 522.56,36.92 523.06,36.95 523.56,36.99 524.06,37.05 524.56,36.96 525.06,36.9 525.56,36.88 526.06,36.93 526.56,36.96 527.06,36.95 527.56,36.96 528.06,36.98 528.56,37.03 529.07,37.04 529.57,36.98 530.07,36.92 530.57,36.89 531.07,36.95 531.57,36.97 532.07,36.96 532.57,36.97 533.07,36.97 533.57,36.97 534.07,36.98 534.57,37.01 535.07,37.05 535.57,37.06 536.07,37 536.57,37.05 537.07,37.02 537.58,37.07 538.08,37.01 538.58,37 539.08,36.94 539.58,36.92 540.08,36.93 540.58,36.99 541.08,36.99 541.58,36.96 542.08,36.95 542.58,36.98 543.08,37.05 543.58,37.08 544.08,37.09 544.58,37.01 545.08,36.96 545.58,36.92 546.09,36.91 546.59,36.94 547.09,36.91 547.59,36.93 548.09,36.96 548.59,37.03 549.09,37.09 549.59,37.01 550.09,36.91 550.59,36.92 551.09,36.91 551.59,36.97 552.09,36.94 552.59,36.99 553.09,36.99 553.59,37.04 554.09,37.05 554.59,37.08 555.1,37 555.6,36.9 556.1,36.77 556.6,36.79 557.1,36.92 557.6,37.02 558.1,37.04 558.6,36.92 559.1,36.88 559.6,36.87 560.1,36.91 560.6,36.91 561.1,36.94 561.6,36.98 562.1,37.01 562.6,36.95 563.1,36.93 563.61,36.93 564.11,36.92 564.61,36.94 565.11,36.96 565.61,36.91 566.11,36.88 566.61,36.83 567.11,36.93 567.61,36.95 568.11,36.93 568.61,36.92 569.11,36.88 569.61,36.91 570.11,36.85 570.61,36.89 571.11,36.87 571.61,36.84 572.12,36.84 572.62,36.79 573.12,36.85 573.62,36.87 574.12,36.89 574.62,36.9 575.12,36.87 575.62,36.86 576.12,36.78 576.62,36.82 577.12,36.82 577.62,36.8 578.12,36.69 578.62,36.71 579.12,36.78 579.62,36.82 580.12,36.84 580.63,36.82 581.13,36.8 581.63,36.76 582.13,36.7 582.63,36.68 583.13,36.71 583.63,36.7 584.13,36.71 584.63,36.65 585.13,36.67 585.63,36.62 586.13,36.62 586.63,36.59 587.13,36.48 587.63,36.43 588.13,36.39 588.63,36.38 589.13,36.29 589.64,36.21 590.14,36.16 590.64,36.18 591.14,36.16 591.64,36.1 592.14,35.92 592.64,35.74 593.14,35.61 593.64,35.49 594.14,35.36 594.64,35.19 595.14,34.95 595.64,34.67 596.14,34.37 596.64,34.05 597.14,33.7 597.64,33.19 598.15,32.62 598.65,32.01 599.15,31.48 599.65,30.99 600.15,30.62 600.65,30.39 601.15,30.42 601.65,30.61 602.15,31.01 602.65,31.43 603.15,31.98 603.65,32.51 604.15,33.04 604.65,33.44 605.15,33.89 605.65,34.3 606.15,34.64 606.66,34.92 607.16,35.11 607.66,35.36 608.16,35.5 608.66,35.72 609.16,35.81 609.66,35.94 610.16,36.01 610.66,36.05 611.16,36.09 611.66,36.01 612.16,36.13 612.66,36.22 613.16,36.38 613.66,36.38 614.16,36.41 614.66,36.43 615.17,36.5 615.67,36.56 616.17,36.6 616.67,36.65 617.17,36.69 617.67,36.68 618.17,36.66 618.67,36.64 619.17,36.71 619.67,36.82 620.17,36.82 620.67,36.8 621.17,36.8 621.67,36.83 622.17,36.89 622.67,36.84 623.17,36.85 623.68,36.79 624.18,36.79 624.68,36.8 625.18,36.85 625.68,36.88 626.18,36.91 626.68,36.89 627.18,36.87 627.68,36.84 628.18,36.78 628.68,36.88 629.18,36.89 629.68,36.96 630.18,36.8 630.68,36.79 631.18,36.84 631.68,36.9 632.18,36.95 632.69,36.87 633.19,36.92 633.69,36.91 634.19,36.95 634.69,36.92 635.19,36.94 635.69,37 636.19,36.98 636.69,36.93 637.19,36.88 637.69,36.93 638.19,36.96 638.69,36.94 639.19,36.91 639.69,36.92 640.19,36.89 640.69,36.93 641.2,36.95 641.7,37.06 642.2,37.04 642.7,37.05 643.2,37.02 643.7,37.02 644.2,36.94 644.7,36.92 645.2,36.87" fill="none" stroke="#8f2fff" stroke-width="1.7" stroke-linejoin="round"/>
<g id="b_s400" transform="matrix(0.99 0 0 0.94 648.5 40.25)"><text x="0" y="0" font-size="12.5" font-weight="bold" fill="#000" font-family='"Liberation Sans", sans-serif' stroke="#000" stroke-width="0.3">400</text></g>
<polyline points="405.42,50.61 405.92,50.59 406.42,50.56 406.92,50.53 407.42,50.52 407.92,50.51 408.43,50.48 408.93,50.5 409.43,50.53 409.93,50.63 410.43,50.63 410.93,50.56 411.43,50.49 411.93,50.43 412.43,50.38 412.93,50.35 413.43,50.36 413.93,50.38 414.43,50.41 414.93,50.44 415.43,50.45 415.93,50.47 416.43,50.45 416.94,50.4 417.44,50.37 417.94,50.37 418.44,50.43 418.94,50.37 419.44,50.35 419.94,50.31 420.44,50.36 420.94,50.32 421.44,50.31 421.94,50.33 422.44,50.34 422.94,50.35 423.44,50.32 423.94,50.25 424.44,50.16 424.94,50.15 425.45,50.11 425.95,50.15 426.45,50.09 426.95,50.05 427.45,49.94 427.95,49.84 428.45,49.81 428.95,49.63 429.45,49.46 429.95,49.18 430.45,48.94 430.95,48.62 431.45,48.21 431.95,47.65 432.45,46.89 432.95,45.96 433.45,44.89 433.96,43.84 434.46,43.12 434.96,42.98 435.46,43.56 435.96,44.55 436.46,45.67 436.96,46.63 437.46,47.34 437.96,48.01 438.46,48.45 438.96,48.81 439.46,49.02 439.96,49.26 440.46,49.42 440.96,49.56 441.46,49.7 441.96,49.86 442.46,49.93 442.97,49.96 443.47,49.98 443.97,50.06 444.47,50.11 444.97,50.24 445.47,50.26 445.97,50.39 446.47,50.32 446.97,50.31 447.47,50.18 447.97,50.22 448.47,50.25 448.97,50.33 449.47,50.39 449.97,50.39 450.47,50.39 450.97,50.32 451.48,50.38 451.98,50.38 452.48,50.38 452.98,50.3 453.48,50.28 453.98,50.16 454.48,50.21 454.98,50.22 455.48,50.33 455.98,50.33 456.48,50.25 456.98,50.21 457.48,50.2 457.98,50.21 458.48,50.16 458.98,50.12 459.48,50.06 459.99,50.04 460.49,49.83 460.99,49.71 461.49,49.57 461.99,49.49 462.49,49.2 462.99,48.87 463.49,48.31 463.99,47.77 464.49,46.82 464.99,45.6 465.49,43.91 465.99,42.36 466.49,41.82 466.99,42.78 467.49,44.47 467.99,45.97 468.5,47.03 469,47.76 469.5,48.26 470,48.61 470.5,48.5 471,48.32 471.5,48.32 472,48.84 472.5,49.33 473,49.63 473.5,49.94 474,50.09 474.5,50.23 475,50.25 475.5,50.29 476,50.31 476.5,50.33 477,50.32 477.51,50.37 478.01,50.37 478.51,50.38 479.01,50.3 479.51,50.4 480.01,50.36 480.51,50.46 481.01,50.5 481.51,50.58 482.01,50.55 482.51,50.49 483.01,50.5 483.51,50.47 484.01,50.44 484.51,50.45 485.01,50.52 485.51,50.59 486.02,50.54 486.52,50.47 487.02,50.47 487.52,50.54 488.02,50.57 488.52,50.53 489.02,50.52 489.52,50.48 490.02,50.5 490.52,50.47 491.02,50.54 491.52,50.5 492.02,50.51 492.52,50.54 493.02,50.56 493.52,50.58 494.02,50.5 494.53,50.52 495.03,50.53 495.53,50.56 496.03,50.58 496.53,50.59 497.03,50.6 497.53,50.55 498.03,50.52 498.53,50.53 499.03,50.58 499.53,50.56 500.03,50.55 500.53,50.5 501.03,50.51 501.53,50.44 502.03,50.53 502.53,50.54 503.04,50.6 503.54,50.52 504.04,50.57 504.54,50.63 505.04,50.66 505.54,50.57 506.04,50.49 506.54,50.54 507.04,50.58 507.54,50.57 508.04,50.52 508.54,50.56 509.04,50.63 509.54,50.67 510.04,50.6 510.54,50.58 511.04,50.55 511.55,50.62 512.05,50.62 512.55,50.64 513.05,50.64 513.55,50.64 514.05,50.61 514.55,50.57 515.05,50.56 515.55,50.51 516.05,50.53 516.55,50.53 517.05,50.56 517.55,50.58 518.05,50.55 518.55,50.58 519.05,50.61 519.55,50.6 520.05,50.56 520.56,50.53 521.06,50.54 521.56,50.53 522.06,50.49 522.56,50.56 523.06,50.58 523.56,50.64 524.06,50.62 524.56,50.65 525.06,50.64 525.56,50.61 526.06,50.61 526.56,50.56 527.06,50.57 527.56,50.57 528.06,50.58 528.56,50.57 529.07,50.51 529.57,50.52 530.07,50.49 530.57,50.51 531.07,50.45 531.57,50.56 532.07,50.61 532.57,50.61 533.07,50.58 533.57,50.53 534.07,50.53 534.57,50.57 535.07,50.57 535.57,50.54 536.07,50.47 536.57,50.48 537.07,50.52 537.58,50.55 538.08,50.53 538.58,50.5 539.08,50.51 539.58,50.52 540.08,50.55 540.58,50.52 541.08,50.51 541.58,50.56 542.08,50.54 542.58,50.54 543.08,50.54 543.58,50.59 544.08,50.67 544.58,50.64 545.08,50.62 545.58,50.61 546.09,50.62 546.59,50.66 547.09,50.65 547.59,50.65 548.09,50.65 548.59,50.61 549.09,50.59 549.59,50.58 550.09,50.57 550.59,50.58 551.09,50.52 551.59,50.6 552.09,50.53 552.59,50.58 553.09,50.57 553.59,50.6 554.09,50.63 554.59,50.63 555.1,50.64 555.6,50.61 556.1,50.56 556.6,50.56 557.1,50.54 557.6,50.54 558.1,50.52 558.6,50.53 559.1,50.5 559.6,50.49 560.1,50.56 560.6,50.65 561.1,50.63 561.6,50.58 562.1,50.51 562.6,50.57 563.1,50.54 563.61,50.47 564.11,50.49 564.61,50.5 565.11,50.57 565.61,50.58 566.11,50.61 566.61,50.62 567.11,50.58 567.61,50.54 568.11,50.59 568.61,50.65 569.11,50.6 569.61,50.54 570.11,50.46 570.61,50.53 571.11,50.54 571.61,50.5 572.12,50.52 572.62,50.53 573.12,50.57 573.62,50.53 574.12,50.55 574.62,50.56 575.12,50.54 575.62,50.53 576.12,50.55 576.62,50.55 577.12,50.43 577.62,50.48 578.12,50.53 578.62,50.59 579.12,50.53 579.62,50.54 580.12,50.55 580.63,50.49 581.13,50.49 581.63,50.44 582.13,50.42 582.63,50.35 583.13,50.32 583.63,50.36 584.13,50.38 584.63,50.38 585.13,50.31 585.63,50.27 586.13,50.3 586.63,50.34 587.13,50.4 587.63,50.38 588.13,50.38 588.63,50.33 589.13,50.3 589.64,50.21 590.14,50.14 590.64,50.09 591.14,50.11 591.64,50.1 592.14,50.03 592.64,49.9 593.14,49.83 593.64,49.74 594.14,49.69 594.64,49.57 595.14,49.45 595.64,49.3 596.14,49.18 596.64,48.97 597.14,48.78 597.64,48.48 598.15,48.25 598.65,47.93 599.15,47.67 599.65,47.4 600.15,47.17 600.65,46.97 601.15,46.89 601.65,46.99 602.15,47.23 602.65,47.51 603.15,47.82 603.65,48.07 604.15,48.38 604.65,48.6 605.15,48.93 605.65,49.16 606.15,49.39 606.66,49.53 607.16,49.59 607.66,49.67 608.16,49.72 608.66,49.85 609.16,49.94 609.66,50.03 610.16,50.08 610.66,50.15 611.16,50.2 611.66,50.18 612.16,50.17 612.66,50.24 613.16,50.33 613.66,50.39 614.16,50.38 614.66,50.4 615.17,50.38 615.67,50.39 616.17,50.32 616.67,50.37 617.17,50.46 617.67,50.46 618.17,50.42 618.67,50.37 619.17,50.42 619.67,50.47 620.17,50.48 620.67,50.48 621.17,50.46 621.67,50.45 622.17,50.47 622.67,50.46 623.17,50.48 623.68,50.48 624.18,50.44 624.68,50.4 625.18,50.45 625.68,50.47 626.18,50.58 626.68,50.6 627.18,50.61 627.68,50.54 628.18,50.44 628.68,50.52 629.18,50.5 629.68,50.57 630.18,50.53 630.68,50.55 631.18,50.49 631.68,50.51 632.18,50.58 632.69,50.65 633.19,50.62 633.69,50.53 634.19,50.5 634.69,50.5 635.19,50.56 635.69,50.59 636.19,50.55 636.69,50.59 637.19,50.6 637.69,50.66 638.19,50.57 638.69,50.54 639.19,50.54 639.69,50.55 640.19,50.49 640.69,50.44 641.2,50.51 641.7,50.58 642.2,50.58 642.7,50.59 643.2,50.63 643.7,50.68 644.2,50.6 644.7,50.59 645.2,50.58" fill="none" stroke="#1a1a8a" stroke-width="1.7" stroke-linejoin="round"/>
<g id="b_s350" transform="matrix(0.97 0 0 0.94 649.26 54.76)"><text x="0" y="0" font-size="12.5" font-weight="bold" fill="#000" font-family='"Liberation Sans", sans-serif' stroke="#000" stroke-width="0.3">350</text></g>
<polyline points="405.42,64.69 405.92,64.74 406.42,64.79 406.92,64.83 407.42,64.78 407.92,64.71 408.43,64.7 408.93,64.72 409.43,64.75 409.93,64.79 410.43,64.79 410.93,64.78 411.43,64.72 411.93,64.69 412.43,64.72 412.93,64.72 413.43,64.74 413.93,64.66 414.43,64.63 414.93,64.61 415.43,64.7 415.93,64.72 416.43,64.79 416.94,64.67 417.44,64.71 417.94,64.66 418.44,64.65 418.94,64.68 419.44,64.66 419.94,64.75 420.44,64.7 420.94,64.72 421.44,64.65 421.94,64.63 422.44,64.58 422.94,64.57 423.44,64.6 423.94,64.55 424.44,64.56 424.94,64.53 425.45,64.57 425.95,64.5 426.45,64.38 426.95,64.33 427.45,64.31 427.95,64.27 428.45,64.14 428.95,64.06 429.45,63.92 429.95,63.85 430.45,63.69 430.95,63.47 431.45,63.12 431.95,62.72 432.45,62.23 432.95,61.64 433.45,60.91 433.96,60.18 434.46,59.68 434.96,59.6 435.46,60.04 435.96,60.74 436.46,61.57 436.96,62.19 437.46,62.69 437.96,63 438.46,63.39 438.96,63.65 439.46,63.88 439.96,64.03 440.46,64.1 440.96,64.13 441.46,64.19 441.96,64.27 442.46,64.3 442.97,64.34 443.47,64.36 443.97,64.39 444.47,64.32 444.97,64.42 445.47,64.53 445.97,64.6 446.47,64.52 446.97,64.54 447.47,64.58 447.97,64.67 448.47,64.6 448.97,64.59 449.47,64.54 449.97,64.56 450.47,64.5 450.97,64.5 451.48,64.51 451.98,64.51 452.48,64.51 452.98,64.56 453.48,64.61 453.98,64.58 454.48,64.53 454.98,64.51 455.48,64.52 455.98,64.39 456.48,64.36 456.98,64.33 457.48,64.4 457.98,64.37 458.48,64.31 458.98,64.25 459.48,64.16 459.99,64.18 460.49,64.07 460.99,63.95 461.49,63.76 461.99,63.7 462.49,63.47 462.99,63.16 463.49,62.6 463.99,61.93 464.49,60.93 464.99,59.52 465.49,57.76 465.99,56.07 466.49,55.61 466.99,56.61 467.49,58.34 467.99,59.89 468.5,61.09 469,61.97 469.5,62.49 470,62.7 470.5,62.6 471,62.35 471.5,62.4 472,62.95 472.5,63.46 473,63.76 473.5,63.97 474,64.11 474.5,64.26 475,64.36 475.5,64.43 476,64.51 476.5,64.55 477,64.57 477.51,64.53 478.01,64.57 478.51,64.57 479.01,64.6 479.51,64.61 480.01,64.62 480.51,64.66 481.01,64.67 481.51,64.66 482.01,64.63 482.51,64.62 483.01,64.69 483.51,64.68 484.01,64.62 484.51,64.67 485.01,64.66 485.51,64.73 486.02,64.62 486.52,64.62 487.02,64.67 487.52,64.65 488.02,64.71 488.52,64.69 489.02,64.73 489.52,64.71 490.02,64.7 490.52,64.74 491.02,64.77 491.52,64.78 492.02,64.8 492.52,64.72 493.02,64.72 493.52,64.63 494.02,64.72 494.53,64.81 495.03,64.93 495.53,64.9 496.03,64.88 496.53,64.79 497.03,64.83 497.53,64.83 498.03,64.83 498.53,64.8 499.03,64.73 499.53,64.71 500.03,64.69 500.53,64.75 501.03,64.81 501.53,64.75 502.03,64.71 502.53,64.67 503.04,64.75 503.54,64.74 504.04,64.76 504.54,64.78 505.04,64.8 505.54,64.86 506.04,64.79 506.54,64.77 507.04,64.75 507.54,64.79 508.04,64.76 508.54,64.77 509.04,64.8 509.54,64.77 510.04,64.71 510.54,64.67 511.04,64.69 511.55,64.72 512.05,64.74 512.55,64.72 513.05,64.72 513.55,64.71 514.05,64.75 514.55,64.74 515.05,64.78 515.55,64.74 516.05,64.74 516.55,64.64 517.05,64.68 517.55,64.71 518.05,64.72 518.55,64.75 519.05,64.74 519.55,64.8 520.05,64.87 520.56,64.82 521.06,64.85 521.56,64.78 522.06,64.83 522.56,64.78 523.06,64.76 523.56,64.69 524.06,64.66 524.56,64.66 525.06,64.69 525.56,64.74 526.06,64.78 526.56,64.8 527.06,64.78 527.56,64.78 528.06,64.83 528.56,64.87 529.07,64.83 529.57,64.71 530.07,64.73 530.57,64.77 531.07,64.81 531.57,64.79 532.07,64.75 532.57,64.77 533.07,64.76 533.57,64.79 534.07,64.74 534.57,64.74 535.07,64.7 535.57,64.74 536.07,64.8 536.57,64.82 537.07,64.81 537.58,64.72 538.08,64.69 538.58,64.69 539.08,64.73 539.58,64.79 540.08,64.79 540.58,64.78 541.08,64.76 541.58,64.8 542.08,64.76 542.58,64.78 543.08,64.69 543.58,64.69 544.08,64.6 544.58,64.69 545.08,64.71 545.58,64.81 546.09,64.79 546.59,64.86 547.09,64.84 547.59,64.84 548.09,64.76 548.59,64.7 549.09,64.69 549.59,64.73 550.09,64.8 550.59,64.83 551.09,64.88 551.59,64.85 552.09,64.79 552.59,64.76 553.09,64.74 553.59,64.79 554.09,64.8 554.59,64.83 555.1,64.76 555.6,64.74 556.1,64.7 556.6,64.74 557.1,64.76 557.6,64.85 558.1,64.85 558.6,64.85 559.1,64.75 559.6,64.72 560.1,64.74 560.6,64.74 561.1,64.73 561.6,64.78 562.1,64.84 562.6,64.85 563.1,64.8 563.61,64.79 564.11,64.78 564.61,64.71 565.11,64.67 565.61,64.66 566.11,64.7 566.61,64.63 567.11,64.63 567.61,64.53 568.11,64.62 568.61,64.61 569.11,64.67 569.61,64.66 570.11,64.67 570.61,64.67 571.11,64.63 571.61,64.63 572.12,64.63 572.62,64.64 573.12,64.6 573.62,64.59 574.12,64.58 574.62,64.62 575.12,64.68 575.62,64.73 576.12,64.76 576.62,64.73 577.12,64.72 577.62,64.74 578.12,64.68 578.62,64.66 579.12,64.56 579.62,64.54 580.12,64.56 580.63,64.6 581.13,64.6 581.63,64.56 582.13,64.55 582.63,64.58 583.13,64.57 583.63,64.53 584.13,64.48 584.63,64.4 585.13,64.46 585.63,64.45 586.13,64.48 586.63,64.33 587.13,64.24 587.63,64.16 588.13,64.14 588.63,64.09 589.13,64.04 589.64,64.03 590.14,64.02 590.64,64 591.14,63.93 591.64,63.84 592.14,63.74 592.64,63.62 593.14,63.52 593.64,63.41 594.14,63.3 594.64,63.07 595.14,62.8 595.64,62.47 596.14,62.2 596.64,61.85 597.14,61.47 597.64,61.03 598.15,60.48 598.65,59.93 599.15,59.37 599.65,58.95 600.15,58.61 600.65,58.38 601.15,58.28 601.65,58.44 602.15,58.8 602.65,59.29 603.15,59.81 603.65,60.36 604.15,60.92 604.65,61.35 605.15,61.76 605.65,62.1 606.15,62.46 606.66,62.77 607.16,63.04 607.66,63.3 608.16,63.41 608.66,63.55 609.16,63.62 609.66,63.78 610.16,63.89 610.66,64.01 611.16,64.07 611.66,64.1 612.16,64.08 612.66,64.1 613.16,64.15 613.66,64.22 614.16,64.27 614.66,64.25 615.17,64.36 615.67,64.34 616.17,64.44 616.67,64.44 617.17,64.49 617.67,64.51 618.17,64.56 618.67,64.6 619.17,64.59 619.67,64.6 620.17,64.57 620.67,64.6 621.17,64.58 621.67,64.63 622.17,64.61 622.67,64.56 623.17,64.64 623.68,64.65 624.18,64.66 624.68,64.59 625.18,64.6 625.68,64.67 626.18,64.67 626.68,64.69 627.18,64.66 627.68,64.71 628.18,64.71 628.68,64.72 629.18,64.74 629.68,64.7 630.18,64.7 630.68,64.7 631.18,64.75 631.68,64.74 632.18,64.71 632.69,64.74 633.19,64.76 633.69,64.79 634.19,64.82 634.69,64.77 635.19,64.67 635.69,64.56 636.19,64.53 636.69,64.54 637.19,64.63 637.69,64.73 638.19,64.74 638.69,64.73 639.19,64.72 639.69,64.76 640.19,64.73 640.69,64.77 641.2,64.77 641.7,64.77 642.2,64.79 642.7,64.76 643.2,64.75 643.7,64.71 644.2,64.69 644.7,64.7 645.2,64.64" fill="none" stroke="#108010" stroke-width="1.7" stroke-linejoin="round"/>
<g id="b_s300" transform="matrix(0.98 0 0 0.94 648.5 68.26)"><text x="0" y="0" font-size="12.5" font-weight="bold" fill="#000" font-family='"Liberation Sans", sans-serif' stroke="#000" stroke-width="0.3">300</text></g>
<polyline points="405.42,78.85 405.92,78.94 406.42,79.04 406.92,79.07 407.42,79 407.92,78.94 408.43,78.98 408.93,79.02 409.43,78.97 409.93,78.97 410.43,78.91 410.93,78.94 411.43,78.88 411.93,78.88 412.43,78.92 412.93,78.94 413.43,78.9 413.93,78.89 414.43,78.9 414.93,79 415.43,79 415.93,78.96 416.43,78.87 416.94,78.82 417.44,78.82 417.94,78.84 418.44,78.85 418.94,78.83 419.44,78.85 419.94,78.81 420.44,78.84 420.94,78.88 421.44,78.95 421.94,78.94 422.44,78.89 422.94,78.88 423.44,78.88 423.94,78.85 424.44,78.77 424.94,78.7 425.45,78.71 425.95,78.68 426.45,78.64 426.95,78.56 427.45,78.47 427.95,78.46 428.45,78.4 428.95,78.37 429.45,78.27 429.95,78.14 430.45,77.97 430.95,77.75 431.45,77.5 431.95,77.17 432.45,76.72 432.95,76.19 433.45,75.52 433.96,74.9 434.46,74.4 434.96,74.38 435.46,74.7 435.96,75.31 436.46,75.95 436.96,76.57 437.46,77.03 437.96,77.35 438.46,77.67 438.96,77.88 439.46,78.1 439.96,78.19 440.46,78.36 440.96,78.4 441.46,78.45 441.96,78.44 442.46,78.55 442.97,78.62 443.47,78.65 443.97,78.64 444.47,78.65 444.97,78.71 445.47,78.73 445.97,78.76 446.47,78.8 446.97,78.83 447.47,78.78 447.97,78.73 448.47,78.73 448.97,78.72 449.47,78.75 449.97,78.78 450.47,78.75 450.97,78.76 451.48,78.72 451.98,78.77 452.48,78.75 452.98,78.76 453.48,78.75 453.98,78.72 454.48,78.74 454.98,78.75 455.48,78.71 455.98,78.65 456.48,78.64 456.98,78.66 457.48,78.69 457.98,78.68 458.48,78.66 458.98,78.53 459.48,78.45 459.99,78.42 460.49,78.38 460.99,78.27 461.49,78.03 461.99,77.8 462.49,77.53 462.99,77.2 463.49,76.78 463.99,76.04 464.49,75.07 464.99,73.66 465.49,71.87 465.99,70.24 466.49,69.7 466.99,70.79 467.49,72.5 467.99,74.12 468.5,75.28 469,76.11 469.5,76.64 470,77.03 470.5,77.11 471,77.1 471.5,77.14 472,77.57 472.5,77.87 473,78.16 473.5,78.31 474,78.45 474.5,78.5 475,78.57 475.5,78.64 476,78.71 476.5,78.76 477,78.8 477.51,78.85 478.01,78.9 478.51,78.82 479.01,78.82 479.51,78.82 480.01,78.86 480.51,78.84 481.01,78.82 481.51,78.82 482.01,78.78 482.51,78.81 483.01,78.81 483.51,78.86 484.01,78.8 484.51,78.86 485.01,78.83 485.51,78.84 486.02,78.91 486.52,78.92 487.02,78.92 487.52,78.89 488.02,78.92 488.52,78.97 489.02,78.92 489.52,78.96 490.02,78.94 490.52,78.92 491.02,78.9 491.52,78.93 492.02,79.01 492.52,78.99 493.02,79.03 493.52,78.97 494.02,79.02 494.53,78.89 495.03,78.89 495.53,78.82 496.03,78.91 496.53,78.91 497.03,78.94 497.53,78.94 498.03,78.86 498.53,78.89 499.03,78.84 499.53,78.95 500.03,78.98 500.53,79.01 501.03,79.02 501.53,78.92 502.03,78.93 502.53,78.88 503.04,78.89 503.54,78.92 504.04,78.95 504.54,79.09 505.04,79.14 505.54,79.13 506.04,79.11 506.54,79.02 507.04,78.98 507.54,78.9 508.04,78.98 508.54,79.04 509.04,79.1 509.54,79.02 510.04,78.96 510.54,78.92 511.04,78.94 511.55,78.97 512.05,78.94 512.55,78.97 513.05,79.01 513.55,79.01 514.05,78.96 514.55,78.92 515.05,78.94 515.55,78.93 516.05,78.93 516.55,78.95 517.05,78.92 517.55,78.9 518.05,78.89 518.55,78.95 519.05,79.01 519.55,79.05 520.05,79.08 520.56,79.1 521.06,79.08 521.56,79.03 522.06,78.99 522.56,79.01 523.06,79.03 523.56,79.05 524.06,79.04 524.56,79 525.06,79.01 525.56,78.94 526.06,79.04 526.56,78.99 527.06,79.05 527.56,78.96 528.06,78.95 528.56,78.96 529.07,78.97 529.57,78.94 530.07,78.87 530.57,78.84 531.07,78.9 531.57,78.87 532.07,78.94 532.57,78.93 533.07,79.05 533.57,79.04 534.07,79.08 534.57,79.03 535.07,79.08 535.57,78.97 536.07,78.94 536.57,78.83 537.07,78.86 537.58,78.88 538.08,78.91 538.58,78.95 539.08,79.01 539.58,79.07 540.08,79.09 540.58,78.99 541.08,79 541.58,78.98 542.08,79.03 542.58,78.96 543.08,78.94 543.58,78.95 544.08,79.02 544.58,78.99 545.08,78.92 545.58,78.89 546.09,78.91 546.59,78.94 547.09,78.92 547.59,78.96 548.09,78.95 548.59,78.91 549.09,78.84 549.59,78.82 550.09,78.87 550.59,78.89 551.09,78.94 551.59,78.96 552.09,78.98 552.59,79 553.09,78.99 553.59,79.05 554.09,78.96 554.59,78.93 555.1,78.87 555.6,78.94 556.1,78.99 556.6,79.01 557.1,79.04 557.6,79.04 558.1,79.05 558.6,78.97 559.1,78.91 559.6,78.83 560.1,78.9 560.6,78.99 561.1,78.99 561.6,78.92 562.1,78.84 562.6,78.86 563.1,78.88 563.61,78.84 564.11,78.83 564.61,78.82 565.11,78.92 565.61,78.94 566.11,78.92 566.61,78.87 567.11,78.84 567.61,78.89 568.11,78.88 568.61,78.93 569.11,78.93 569.61,78.91 570.11,78.83 570.61,78.84 571.11,78.88 571.61,78.94 572.12,78.93 572.62,78.92 573.12,78.88 573.62,78.86 574.12,78.86 574.62,78.87 575.12,78.93 575.62,78.93 576.12,78.88 576.62,78.85 577.12,78.86 577.62,78.91 578.12,78.84 578.62,78.82 579.12,78.86 579.62,78.83 580.12,78.9 580.63,78.88 581.13,78.95 581.63,78.94 582.13,78.86 582.63,78.76 583.13,78.72 583.63,78.77 584.13,78.83 584.63,78.74 585.13,78.72 585.63,78.67 586.13,78.66 586.63,78.64 587.13,78.64 587.63,78.58 588.13,78.54 588.63,78.49 589.13,78.51 589.64,78.45 590.14,78.38 590.64,78.33 591.14,78.31 591.64,78.33 592.14,78.23 592.64,78.17 593.14,78.04 593.64,77.88 594.14,77.73 594.64,77.55 595.14,77.47 595.64,77.3 596.14,77.12 596.64,76.9 597.14,76.69 597.64,76.39 598.15,76.02 598.65,75.55 599.15,75.09 599.65,74.69 600.15,74.46 600.65,74.34 601.15,74.4 601.65,74.55 602.15,74.75 602.65,75.06 603.15,75.44 603.65,75.91 604.15,76.25 604.65,76.5 605.15,76.8 605.65,77.06 606.15,77.28 606.66,77.47 607.16,77.66 607.66,77.82 608.16,77.96 608.66,78 609.16,78.11 609.66,78.17 610.16,78.3 610.66,78.34 611.16,78.35 611.66,78.4 612.16,78.54 612.66,78.58 613.16,78.63 613.66,78.57 614.16,78.64 614.66,78.63 615.17,78.68 615.67,78.71 616.17,78.78 616.67,78.8 617.17,78.78 617.67,78.81 618.17,78.9 618.67,78.91 619.17,78.79 619.67,78.74 620.17,78.77 620.67,78.89 621.17,78.91 621.67,78.86 622.17,78.89 622.67,78.85 623.17,78.93 623.68,78.86 624.18,78.82 624.68,78.79 625.18,78.83 625.68,78.85 626.18,78.87 626.68,78.93 627.18,78.92 627.68,78.93 628.18,78.87 628.68,78.84 629.18,78.79 629.68,78.79 630.18,78.81 630.68,78.88 631.18,78.95 631.68,79.05 632.18,79.02 632.69,78.95 633.19,78.94 633.69,78.87 634.19,78.85 634.69,78.83 635.19,78.92 635.69,78.96 636.19,78.95 636.69,78.94 637.19,78.85 637.69,78.8 638.19,78.77 638.69,78.86 639.19,78.98 639.69,78.97 640.19,78.99 640.69,78.9 641.2,78.92 641.7,78.95 642.2,78.98 642.7,79 643.2,78.97 643.7,78.97 644.2,78.96 644.7,78.96 645.2,78.96" fill="none" stroke="#ff10ff" stroke-width="1.7" stroke-linejoin="round"/>
<g id="b_s250" transform="matrix(1 0 0 0.94 647.89 82.76)"><text x="0" y="0" font-size="12.5" font-weight="bold" fill="#000" font-family='"Liberation Sans", sans-serif' stroke="#000" stroke-width="0.3">250</text></g>
<polyline points="405.42,131.72 405.92,131.74 406.42,131.89 406.92,131.84 407.42,131.84 407.92,131.5 408.43,131.74 408.93,131.22 409.43,132.09 409.93,131.86 410.43,132.2 410.93,131.59 411.43,131.76 411.93,131.95 412.43,131.76 412.93,131.35 413.43,131.65 413.93,131.75 414.43,132.14 414.93,131.61 415.43,131.75 415.93,131.59 416.43,131.58 416.94,131.54 417.44,131.52 417.94,131.91 418.44,131.91 418.94,132.36 419.44,132.38 419.94,132.42 420.44,132.16 420.94,131.53 421.44,131.89 421.94,132.2 422.44,132.59 422.94,131.97 423.44,131.47 423.94,131.26 424.44,130.94 424.94,131.05 425.45,131.55 425.95,132 426.45,131.63 426.95,131.23 427.45,131.21 427.95,131.35 428.45,131.32 428.95,131.58 429.45,131.48 429.95,131.62 430.45,131.2 430.95,131.26 431.45,130.89 431.95,130.42 432.45,130.08 432.95,129.74 433.45,129.38 433.96,128.9 434.46,128.84 434.96,128.82 435.46,129.17 435.96,129.4 436.46,129.87 436.96,129.79 437.46,130.2 437.96,130.54 438.46,131 438.96,131.13 439.46,131.12 439.96,130.97 440.46,131.22 440.96,131.27 441.46,131.71 441.96,130.92 442.46,130.8 442.97,130.51 443.47,130.93 443.97,131.23 444.47,131.29 444.97,131.13 445.47,130.84 445.97,130.39 446.47,130.21 446.97,130.31 447.47,130.68 447.97,130.71 448.47,130.74 448.97,130.71 449.47,130.95 449.97,130.74 450.47,130.77 450.97,130.87 451.48,130.74 451.98,130.98 452.48,130.79 452.98,131.34 453.48,131.47 453.98,131.79 454.48,131.69 454.98,131.35 455.48,131.56 455.98,131.14 456.48,131.57 456.98,130.95 457.48,131.25 457.98,131.09 458.48,131.21 458.98,131.32 459.48,131.19 459.99,131.3 460.49,130.55 460.99,130.67 461.49,130.19 461.99,130.71 462.49,130.48 462.99,130.74 463.49,130.08 463.99,129.49 464.49,128.81 464.99,127.79 465.49,125.79 465.99,122.24 466.49,117.77 466.99,113.07 467.49,114.12 467.99,119.14 468.5,123.84 469,126.69 469.5,128.21 470,128.97 470.5,129.6 471,129.99 471.5,130.7 472,131.47 472.5,131.57 473,131.73 473.5,131.18 474,130.95 474.5,130.73 475,130.84 475.5,130.99 476,130.89 476.5,131.33 477,131.82 477.51,132.12 478.01,131.89 478.51,131.88 479.01,131.75 479.51,131.51 480.01,131.43 480.51,131.48 481.01,131.96 481.51,131.92 482.01,131.74 482.51,131.26 483.01,131.2 483.51,131.56 484.01,131.43 484.51,131.91 485.01,131.84 485.51,132.41 486.02,131.99 486.52,131.78 487.02,131.72 487.52,130.98 488.02,130.67 488.52,130.4 489.02,131.25 489.52,131.99 490.02,131.93 490.52,131.65 491.02,131.24 491.52,131.18 492.02,131.26 492.52,131.66 493.02,132.35 493.52,132.53 494.02,132.21 494.53,131.69 495.03,131.56 495.53,131.62 496.03,131.92 496.53,131.87 497.03,131.68 497.53,131.63 498.03,131.95 498.53,132.19 499.03,132.28 499.53,132.04 500.03,132.2 500.53,131.92 501.03,132.14 501.53,131.79 502.03,131.36 502.53,131.42 503.04,131.5 503.54,131.5 504.04,131.07 504.54,131.06 505.04,131.44 505.54,131.69 506.04,132.03 506.54,132.69 507.04,132.79 507.54,132.62 508.04,131.85 508.54,131.63 509.04,131.83 509.54,131.97 510.04,132.29 510.54,131.72 511.04,132.03 511.55,131.59 512.05,131.82 512.55,131.7 513.05,131.65 513.55,131.72 514.05,132.13 514.55,132.27 515.05,132.43 515.55,132 516.05,132.04 516.55,131.68 517.05,131.56 517.55,131.83 518.05,132.14 518.55,132.41 519.05,132.25 519.55,132.24 520.05,131.84 520.56,131.93 521.06,131.59 521.56,131.37 522.06,131.12 522.56,131.36 523.06,131.49 523.56,131.77 524.06,131.75 524.56,131.72 525.06,131.41 525.56,131.44 526.06,131.77 526.56,132 527.06,131.66 527.56,131.18 528.06,130.76 528.56,131.06 529.07,131.4 529.57,131.89 530.07,132.13 530.57,132.06 531.07,131.74 531.57,131.78 532.07,132.18 532.57,132.24 533.07,132.25 533.57,131.77 534.07,131.59 534.57,131.54 535.07,131.83 535.57,131.89 536.07,131.44 536.57,131.38 537.07,131.6 537.58,131.87 538.08,131.75 538.58,131.6 539.08,131.59 539.58,131.81 540.08,131.96 540.58,131.95 541.08,131.94 541.58,132.18 542.08,132.12 542.58,131.86 543.08,131.57 543.58,131.33 544.08,131.42 544.58,131.28 545.08,131.36 545.58,131.86 546.09,131.86 546.59,131.81 547.09,131.63 547.59,132.17 548.09,132.6 548.59,132.42 549.09,131.96 549.59,132.08 550.09,132.06 550.59,132.37 551.09,132 551.59,131.99 552.09,131.7 552.59,131.86 553.09,131.92 553.59,131.78 554.09,131.9 554.59,131.81 555.1,132.11 555.6,131.93 556.1,132.08 556.6,131.71 557.1,131.44 557.6,131.33 558.1,131.16 558.6,131.31 559.1,130.93 559.6,131.57 560.1,131.72 560.6,132.16 561.1,131.5 561.6,131.17 562.1,131.11 562.6,131.47 563.1,131.69 563.61,131.63 564.11,131.87 564.61,131.65 565.11,131.53 565.61,131.5 566.11,131.6 566.61,131.48 567.11,131.25 567.61,131.38 568.11,131.42 568.61,131.31 569.11,130.82 569.61,131.04 570.11,131.1 570.61,131.49 571.11,131.46 571.61,131.49 572.12,131.75 572.62,131.79 573.12,132.05 573.62,131.66 574.12,131.52 574.62,131.36 575.12,131.42 575.62,131.11 576.12,130.87 576.62,131.15 577.12,130.63 577.62,130.46 578.12,129.62 578.62,130.27 579.12,130.34 579.62,130.62 580.12,130.47 580.63,130.61 581.13,130.34 581.63,130.62 582.13,130.63 582.63,130.58 583.13,130.41 583.63,130.68 584.13,130.97 584.63,130.86 585.13,130.19 585.63,129.87 586.13,129.91 586.63,129.89 587.13,130.21 587.63,130.33 588.13,130.64 588.63,130.74 589.13,130.74 589.64,130.09 590.14,129.88 590.64,129.64 591.14,129.77 591.64,129.63 592.14,128.83 592.64,128.06 593.14,127.28 593.64,127.03 594.14,126.92 594.64,126.19 595.14,125.09 595.64,123.71 596.14,122.52 596.64,120.91 597.14,119.16 597.64,116.11 598.15,112.19 598.65,106.83 599.15,101.12 599.65,94.91 600.15,88.43 600.65,84.46 601.15,84.66 601.65,89.47 602.15,96.04 602.65,102.51 603.15,108.19 603.65,112.89 604.15,116.88 604.65,119.88 605.15,122.55 605.65,123.75 606.15,125.09 606.66,125.69 607.16,126.64 607.66,127.06 608.16,127.49 608.66,128.24 609.16,129.13 609.66,129.59 610.16,129.85 610.66,130.08 611.16,130.16 611.66,130.12 612.16,130.02 612.66,129.69 613.16,129.87 613.66,129.81 614.16,129.59 614.66,129.35 615.17,129.52 615.67,130.26 616.17,130.71 616.67,130.75 617.17,130.92 617.67,131.24 618.17,131.62 618.67,131.47 619.17,130.85 619.67,130.57 620.17,130.96 620.67,131.61 621.17,131.37 621.67,130.8 622.17,130.34 622.67,130.69 623.17,131.2 623.68,131.23 624.18,131.29 624.68,131.42 625.18,132.13 625.68,132.23 626.18,132.08 626.68,131.81 627.18,131.39 627.68,131.54 628.18,131.13 628.68,131.41 629.18,131.28 629.68,131.36 630.18,131.66 630.68,131.34 631.18,131.63 631.68,131.47 632.18,131.66 632.69,131.5 633.19,131.59 633.69,131.52 634.19,131.79 634.69,131.61 635.19,131.97 635.69,131.79 636.19,131.67 636.69,131.54 637.19,131.72 637.69,131.64 638.19,131.5 638.69,131.48 639.19,131.8 639.69,132.02 640.19,131.33 640.69,131.19 641.2,130.78 641.7,131.17 642.2,131.04 642.7,131.32 643.2,131.89 643.7,132.1 644.2,132.08 644.7,131.81 645.2,131.83" fill="none" stroke="#0000ff" stroke-width="1.7" stroke-linejoin="round"/>
<g id="b_s200" transform="matrix(1 0 0 0.94 648.46 134.56)"><text x="0" y="0" font-size="12.5" font-weight="bold" fill="#000" font-family='"Liberation Sans", sans-serif' stroke="#000" stroke-width="0.3">200</text></g>
<polyline points="405.42,179.43 405.92,179.63 406.42,179.38 406.92,179.8 407.42,179.45 407.92,179.57 408.43,179.04 408.93,179.03 409.43,179 409.93,179.34 410.43,179.42 410.93,179.43 411.43,179.55 411.93,179.52 412.43,180 412.93,179.83 413.43,179.53 413.93,178.94 414.43,179.21 414.93,179.41 415.43,179.48 415.93,179.31 416.43,179.65 416.94,179.66 417.44,179.37 417.94,179.27 418.44,178.94 418.94,179.23 419.44,179.04 419.94,179.69 420.44,179.95 420.94,180.13 421.44,179.77 421.94,179.01 422.44,179.05 422.94,179.04 423.44,179.65 423.94,179.57 424.44,179.51 424.94,179.34 425.45,179.13 425.95,178.95 426.45,178.74 426.95,178.95 427.45,179.25 427.95,179.23 428.45,179.4 428.95,179.15 429.45,179.36 429.95,179.07 430.45,179.43 430.95,179.45 431.45,179.6 431.95,179.2 432.45,178.9 432.95,178.6 433.45,178.38 433.96,178.44 434.46,178.19 434.96,178.49 435.46,178.54 435.96,178.93 436.46,178.73 436.96,178.33 437.46,178.43 437.96,178.92 438.46,179.62 438.96,179.54 439.46,179.27 439.96,178.89 440.46,178.85 440.96,178.66 441.46,178.72 441.96,178.68 442.46,178.98 442.97,179.15 443.47,179.63 443.97,179.52 444.47,179.39 444.97,178.98 445.47,179.02 445.97,178.8 446.47,178.57 446.97,178.8 447.47,178.79 447.97,178.66 448.47,178.11 448.97,178.09 449.47,178.19 449.97,178.65 450.47,178.63 450.97,178.82 451.48,178.58 451.98,178.61 452.48,178.61 452.98,178.92 453.48,179.5 453.98,179.67 454.48,179.48 454.98,179.07 455.48,178.79 455.98,178.73 456.48,178.72 456.98,179.28 457.48,179.2 457.98,179.22 458.48,178.45 458.98,178.43 459.48,178.58 459.99,178.93 460.49,178.91 460.99,178.87 461.49,179.13 461.99,179.05 462.49,178.82 462.99,178.32 463.49,178.09 463.99,177.61 464.49,176.76 464.99,175.7 465.49,173.92 465.99,171.1 466.49,166.9 466.99,163.28 467.49,164.4 467.99,169.16 468.5,172.69 469,175.3 469.5,176.46 470,177.14 470.5,177.35 471,177.89 471.5,178.69 472,179.11 472.5,178.9 473,178.62 473.5,178.93 474,179.03 474.5,179.14 475,178.74 475.5,178.67 476,178.93 476.5,178.99 477,179.26 477.51,178.9 478.01,179.08 478.51,179.41 479.01,179.61 479.51,179.37 480.01,179.15 480.51,179.24 481.01,179.42 481.51,179.4 482.01,179.44 482.51,179.56 483.01,179.25 483.51,179.26 484.01,179.14 484.51,179.21 485.01,178.91 485.51,179.28 486.02,179.66 486.52,180.13 487.02,179.83 487.52,180.13 488.02,180.16 488.52,180.17 489.02,179.65 489.52,179.61 490.02,179.53 490.52,179.35 491.02,179.31 491.52,179.1 492.02,179.37 492.52,179.62 493.02,179.85 493.52,179.82 494.02,179.09 494.53,179.26 495.03,178.92 495.53,179.22 496.03,178.97 496.53,179.37 497.03,179.26 497.53,179.12 498.03,179.08 498.53,179.29 499.03,179.41 499.53,179.46 500.03,179.3 500.53,179.23 501.03,179.15 501.53,179.13 502.03,179.29 502.53,179.3 503.04,179.21 503.54,179.01 504.04,178.97 504.54,179.48 505.04,180.02 505.54,179.92 506.04,179.28 506.54,178.73 507.04,178.98 507.54,179.22 508.04,179.59 508.54,179.41 509.04,179.47 509.54,179.57 510.04,179.53 510.54,179.51 511.04,178.88 511.55,178.77 512.05,179.08 512.55,179.33 513.05,179.74 513.55,179.56 514.05,179.77 514.55,179.85 515.05,179.12 515.55,178.92 516.05,178.84 516.55,179.22 517.05,179.83 517.55,179.41 518.05,179.61 518.55,179.11 519.05,179.17 519.55,179.15 520.05,179.08 520.56,179.45 521.06,179.4 521.56,179.58 522.06,179.28 522.56,179.41 523.06,179.26 523.56,179.47 524.06,179.68 524.56,179.92 525.06,179.63 525.56,179.42 526.06,179.25 526.56,179.51 527.06,179.27 527.56,179.45 528.06,179.91 528.56,180.23 529.07,180.19 529.57,179.42 530.07,179.45 530.57,179.43 531.07,179.55 531.57,179.24 532.07,179.2 532.57,179.06 533.07,179.3 533.57,179.2 534.07,179.64 534.57,179.99 535.07,180.16 535.57,180.1 536.07,179.84 536.57,179.24 537.07,179.43 537.58,179.15 538.08,179.3 538.58,178.83 539.08,178.82 539.58,179.24 540.08,179.51 540.58,179.36 541.08,178.93 541.58,178.93 542.08,179.1 542.58,179.42 543.08,179.16 543.58,179.39 544.08,179.19 544.58,179.41 545.08,179.21 545.58,179.53 546.09,179.25 546.59,179.37 547.09,179.11 547.59,179.33 548.09,179.1 548.59,179.12 549.09,178.61 549.59,178.93 550.09,178.85 550.59,179.45 551.09,179.27 551.59,179.78 552.09,179.43 552.59,179.92 553.09,179.43 553.59,179.98 554.09,179.57 554.59,179.62 555.1,179.47 555.6,179.33 556.1,179.44 556.6,179.41 557.1,179.39 557.6,179.08 558.1,178.88 558.6,178.95 559.1,179.22 559.6,179.3 560.1,179.04 560.6,178.89 561.1,178.9 561.6,179.06 562.1,179.44 562.6,179.42 563.1,179.43 563.61,179.24 564.11,179.24 564.61,179.1 565.11,178.94 565.61,178.79 566.11,179.44 566.61,179.54 567.11,179.8 567.61,179.44 568.11,179.46 568.61,179.19 569.11,179.44 569.61,179.13 570.11,179.12 570.61,178.75 571.11,179.26 571.61,179.61 572.12,179.26 572.62,179.17 573.12,178.92 573.62,179.24 574.12,179.07 574.62,178.47 575.12,177.97 575.62,178.04 576.12,178.56 576.62,178.46 577.12,178.03 577.62,177.88 578.12,178.18 578.62,178.01 579.12,177.92 579.62,177.93 580.12,177.5 580.63,177.49 581.13,177.74 581.63,178.45 582.13,178.81 582.63,178.8 583.13,179.01 583.63,179.04 584.13,178.84 584.63,178.74 585.13,178.49 585.63,178.33 586.13,178.06 586.63,178.01 587.13,177.88 587.63,177.77 588.13,177.75 588.63,177.72 589.13,178.11 589.64,178.15 590.14,178.19 590.64,177.61 591.14,176.73 591.64,176.5 592.14,176.19 592.64,176.63 593.14,176.23 593.64,175.82 594.14,175.17 594.64,174.6 595.14,174.05 595.64,172.63 596.14,171.75 596.64,170.56 597.14,168.91 597.64,166.08 598.15,162.68 598.65,158.92 599.15,154.14 599.65,148.2 600.15,142.94 600.65,139.64 601.15,140.2 601.65,144.03 602.15,149.72 602.65,155.34 603.15,159.94 603.65,163.64 604.15,166.89 604.65,169.2 605.15,171.05 605.65,171.95 606.15,172.97 606.66,173.77 607.16,174.58 607.66,175.13 608.16,175.66 608.66,176.16 609.16,176.91 609.66,177.24 610.16,177.57 610.66,177.47 611.16,177.63 611.66,177.83 612.16,178.14 612.66,178 613.16,178.25 613.66,177.99 614.16,178.5 614.66,177.94 615.17,178.04 615.67,178.3 616.17,179.2 616.67,179.68 617.17,179.4 617.67,179.19 618.17,178.62 618.67,178.24 619.17,178.51 619.67,178.98 620.17,179.77 620.67,179.64 621.17,179.52 621.67,179.04 622.17,178.84 622.67,178.58 623.17,178.91 623.68,179.13 624.18,179.41 624.68,179.02 625.18,178.92 625.68,178.9 626.18,178.77 626.68,178.86 627.18,178.91 627.68,179.45 628.18,179.17 628.68,179.54 629.18,179.31 629.68,179.02 630.18,178.69 630.68,178.81 631.18,179.25 631.68,179.23 632.18,179.23 632.69,179.4 633.19,179.43 633.69,179.34 634.19,179.4 634.69,179.37 635.19,179.53 635.69,179.43 636.19,179.59 636.69,179.74 637.19,180.11 637.69,179.71 638.19,179.65 638.69,179.38 639.19,179.69 639.69,179.32 640.19,179.22 640.69,179.42 641.2,179.43 641.7,179.26 642.2,179.2 642.7,179.35 643.2,179.47 643.7,178.91 644.2,178.84 644.7,179.06 645.2,179.57" fill="none" stroke="#ff0000" stroke-width="1.7" stroke-linejoin="round"/>
<g id="b_s100" transform="matrix(0.98 0 0 0.94 648.14 181.36)"><text x="0" y="0" font-size="12.5" font-weight="bold" fill="#000" font-family='"Liberation Sans", sans-serif' stroke="#000" stroke-width="0.3">100</text></g>
<polyline points="405.42,218.89 405.92,218.53 406.42,218.21 406.92,218.12 407.42,218.59 407.92,218.6 408.43,218.72 408.93,218.21 409.43,218.13 409.93,218.05 410.43,218.39 410.93,218.6 411.43,218.6 411.93,218.17 412.43,218.39 412.93,218.98 413.43,218.83 413.93,218.1 414.43,217.37 414.93,217.71 415.43,218.12 415.93,218.33 416.43,218.66 416.94,218.44 417.44,218.41 417.94,218.56 418.44,218.8 418.94,218.87 419.44,218.6 419.94,218.08 420.44,217.73 420.94,218.26 421.44,218.56 421.94,218.56 422.44,217.62 422.94,217.55 423.44,218.19 423.94,218.28 424.44,218.43 424.94,217.69 425.45,217.77 425.95,218.1 426.45,218.01 426.95,218.35 427.45,217.79 427.95,218.08 428.45,217.94 428.95,218.64 429.45,218.9 429.95,218.96 430.45,218.5 430.95,218.33 431.45,217.76 431.95,217.59 432.45,217.24 432.95,217.77 433.45,217.88 433.96,217.87 434.46,217.38 434.96,217.12 435.46,217.44 435.96,217.92 436.46,217.74 436.96,217.85 437.46,217.75 437.96,217.82 438.46,217.68 438.96,217.75 439.46,217.91 439.96,217.96 440.46,217.55 440.96,217.74 441.46,217.85 441.96,217.58 442.46,217.26 442.97,217.02 443.47,217.52 443.97,218.01 444.47,218.1 444.97,218.27 445.47,217.72 445.97,217.24 446.47,216.94 446.97,217.13 447.47,217.21 447.97,217.08 448.47,216.82 448.97,216.8 449.47,216.76 449.97,216.81 450.47,217.22 450.97,217.25 451.48,217.91 451.98,217.76 452.48,218.05 452.98,217.62 453.48,217.74 453.98,217.67 454.48,218.17 454.98,218.27 455.48,218.51 455.98,218.07 456.48,217.93 456.98,217.86 457.48,218.05 457.98,218.24 458.48,218.16 458.98,217.94 459.48,217.61 459.99,217.58 460.49,217.84 460.99,218.1 461.49,217.83 461.99,217.71 462.49,217.46 462.99,217.89 463.49,217.19 463.99,216.69 464.49,215.7 464.99,214.93 465.49,213.17 465.99,210.3 466.49,206.02 466.99,202.3 467.49,203.46 467.99,208.29 468.5,211.84 469,214.04 469.5,214.83 470,215.67 470.5,216.21 471,216.97 471.5,217.59 472,217.34 472.5,217.35 473,217.4 473.5,217.64 474,217.91 474.5,218.04 475,218.39 475.5,218.25 476,218.43 476.5,218.47 477,218.45 477.51,218.41 478.01,218.51 478.51,218.47 479.01,218.49 479.51,218.33 480.01,218.26 480.51,218.04 481.01,217.62 481.51,217.81 482.01,218.16 482.51,218.47 483.01,218.41 483.51,217.93 484.01,218.32 484.51,218.39 485.01,218.33 485.51,217.98 486.02,217.72 486.52,218.1 487.02,218.05 487.52,218.29 488.02,217.82 488.52,218.12 489.02,217.87 489.52,218.15 490.02,217.94 490.52,218.33 491.02,218.6 491.52,218.93 492.02,218.73 492.52,218.7 493.02,218.16 493.52,218.13 494.02,217.83 494.53,217.83 495.03,217.95 495.53,217.86 496.03,218.45 496.53,218.52 497.03,218.51 497.53,218.18 498.03,217.75 498.53,217.94 499.03,218.09 499.53,218.13 500.03,218.12 500.53,217.99 501.03,218.3 501.53,218.49 502.03,218.52 502.53,218.34 503.04,218.32 503.54,218.28 504.04,218.6 504.54,218.45 505.04,218.31 505.54,218.04 506.04,218.12 506.54,218.38 507.04,218.43 507.54,218.18 508.04,217.89 508.54,217.39 509.04,217.54 509.54,217.78 510.04,218.41 510.54,218.23 511.04,218.31 511.55,218.29 512.05,218.83 512.55,218.68 513.05,218.5 513.55,217.96 514.05,217.78 514.55,217.71 515.05,218.07 515.55,217.87 516.05,217.71 516.55,217.91 517.05,218.47 517.55,218.68 518.05,218.19 518.55,217.68 519.05,217.8 519.55,218.16 520.05,218.58 520.56,218.31 521.06,218.1 521.56,218.32 522.06,218.65 522.56,218.51 523.06,218.15 523.56,217.99 524.06,218.03 524.56,218.02 525.06,218.36 525.56,218.46 526.06,218.31 526.56,218.22 527.06,218.01 527.56,217.75 528.06,217.47 528.56,217.61 529.07,218 529.57,218.34 530.07,218.09 530.57,218.18 531.07,218.15 531.57,218.1 532.07,217.81 532.57,217.78 533.07,218.1 533.57,218.23 534.07,217.95 534.57,218.39 535.07,218.65 535.57,219.11 536.07,218.69 536.57,218.63 537.07,218.26 537.58,217.91 538.08,217.65 538.58,217.92 539.08,218.32 539.58,218.36 540.08,218.54 540.58,218.28 541.08,218.31 541.58,217.78 542.08,217.77 542.58,217.76 543.08,217.65 543.58,217.79 544.08,218.06 544.58,218.32 545.08,218.44 545.58,218.06 546.09,217.7 546.59,217.99 547.09,218.15 547.59,218.66 548.09,218.32 548.59,218.13 549.09,217.65 549.59,218.04 550.09,218.18 550.59,218.24 551.09,218.06 551.59,217.95 552.09,218.12 552.59,217.66 553.09,217.71 553.59,218.28 554.09,218.79 554.59,218.86 555.1,218.46 555.6,218.33 556.1,218.1 556.6,218.27 557.1,218.16 557.6,218.2 558.1,218.35 558.6,218.34 559.1,218.59 559.6,218.34 560.1,217.93 560.6,218.01 561.1,217.72 561.6,218.34 562.1,218.4 562.6,218.5 563.1,218.09 563.61,217.92 564.11,217.82 564.61,218.07 565.11,217.81 565.61,217.89 566.11,217.8 566.61,217.87 567.11,217.8 567.61,217.82 568.11,218.03 568.61,218.09 569.11,218.18 569.61,217.82 570.11,217.85 570.61,217.58 571.11,217.94 571.61,217.79 572.12,218.26 572.62,218.25 573.12,218.07 573.62,217.66 574.12,217.91 574.62,218.18 575.12,218.19 575.62,217.8 576.12,217.9 576.62,217.99 577.12,217.34 577.62,216.97 578.12,216.43 578.62,216.61 579.12,216.75 579.62,216.99 580.12,217.24 580.63,217.42 581.13,217.52 581.63,217.61 582.13,217.4 582.63,217.56 583.13,217.69 583.63,217.75 584.13,217.86 584.63,217.55 585.13,217.46 585.63,217.25 586.13,217.48 586.63,217.43 587.13,217.38 587.63,217.36 588.13,217.24 588.63,216.82 589.13,216.22 589.64,216.13 590.14,216.44 590.64,216.05 591.14,215.95 591.64,215.65 592.14,216.28 592.64,216.09 593.14,215.98 593.64,215.61 594.14,215.26 594.64,214.64 595.14,213.9 595.64,213.15 596.14,212.65 596.64,211.4 597.14,210.07 597.64,207.77 598.15,205.68 598.65,202.19 599.15,198.11 599.65,193.36 600.15,189.35 600.65,187.03 601.15,186.98 601.65,190 602.15,194.47 602.65,199.34 603.15,203.03 603.65,205.94 604.15,208.2 604.65,210 605.15,211.09 605.65,211.81 606.15,212.86 606.66,213.88 607.16,214.89 607.66,215.03 608.16,215.04 608.66,215.11 609.16,215.63 609.66,216.13 610.16,216.72 610.66,216.86 611.16,217.04 611.66,217.11 612.16,217.19 612.66,217.06 613.16,217.08 613.66,217.12 614.16,217.46 614.66,217.83 615.17,217.81 615.67,218.08 616.17,218.07 616.67,218.19 617.17,217.95 617.67,217.55 618.17,217.58 618.67,217.39 619.17,217.45 619.67,217.34 620.17,217.49 620.67,217.83 621.17,218.02 621.67,218.05 622.17,217.75 622.67,217.79 623.17,217.93 623.68,217.69 624.18,217.61 624.68,217.77 625.18,217.85 625.68,217.89 626.18,217.69 626.68,217.96 627.18,218.53 627.68,219.08 628.18,219.2 628.68,218.48 629.18,217.86 629.68,218.02 630.18,218.11 630.68,217.91 631.18,217.9 631.68,218.22 632.18,218.84 632.69,218.81 633.19,219.07 633.69,218.97 634.19,218.72 634.69,218.29 635.19,217.94 635.69,217.8 636.19,217.92 636.69,218.51 637.19,218.67 637.69,218.59 638.19,218.37 638.69,218.2 639.19,218.34 639.69,218.03 640.19,218.13 640.69,217.7 641.2,218.19 641.7,218.59 642.2,219 642.7,218.42 643.2,217.81 643.7,217.78 644.2,218 644.7,217.99 645.2,217.77" fill="none" stroke="#000000" stroke-width="1.7" stroke-linejoin="round"/>
<g id="b_sRT" transform="matrix(0.99 0 0 0.99 647.48 222.46)"><text x="0" y="0" font-size="12.5" font-weight="bold" fill="#000" font-family='"Liberation Sans", sans-serif' stroke="#000" stroke-width="0.3">RT</text></g>
<line x1="53.8" y1="292.4" x2="224.1" y2="292.4" stroke="#111" stroke-width="1.4" stroke-linecap="butt"/>
<line x1="53.8" y1="291.7" x2="53.8" y2="416.5" stroke="#111" stroke-width="1.4" stroke-linecap="butt"/>
<line x1="53.8" y1="415.8" x2="224.1" y2="415.8" stroke="#111" stroke-width="1.4" stroke-linecap="butt"/>
<line x1="224.1" y1="291.7" x2="224.1" y2="416.5" stroke="#0000ff" stroke-width="1.4" stroke-linecap="butt"/>
<line x1="72.95" y1="415.8" x2="72.95" y2="413.8" stroke="#111" stroke-width="1.1" stroke-linecap="butt"/>
<line x1="91.9" y1="415.8" x2="91.9" y2="411.8" stroke="#111" stroke-width="1.1" stroke-linecap="butt"/>
<line x1="110.85" y1="415.8" x2="110.85" y2="413.8" stroke="#111" stroke-width="1.1" stroke-linecap="butt"/>
<line x1="129.8" y1="415.8" x2="129.8" y2="411.8" stroke="#111" stroke-width="1.1" stroke-linecap="butt"/>
<line x1="148.75" y1="415.8" x2="148.75" y2="413.8" stroke="#111" stroke-width="1.1" stroke-linecap="butt"/>
<line x1="167.7" y1="415.8" x2="167.7" y2="411.8" stroke="#111" stroke-width="1.1" stroke-linecap="butt"/>
<line x1="186.65" y1="415.8" x2="186.65" y2="413.8" stroke="#111" stroke-width="1.1" stroke-linecap="butt"/>
<line x1="205.6" y1="415.8" x2="205.6" y2="411.8" stroke="#111" stroke-width="1.1" stroke-linecap="butt"/>
<g id="c_t0" transform="matrix(0.95 0 0 0.84 51.07 428.31)"><text x="0" y="0" font-size="10" font-weight="bold" fill="#000" font-family='"Liberation Sans", sans-serif' stroke="#000" stroke-width="0.22">0</text></g>
<g id="c_t100" transform="matrix(1.09 0 0 0.84 82.01 428.31)"><text x="0" y="0" font-size="10" font-weight="bold" fill="#000" font-family='"Liberation Sans", sans-serif' stroke="#000" stroke-width="0.22">100</text></g>
<g id="c_t200" transform="matrix(1.1 0 0 0.84 120.18 428.31)"><text x="0" y="0" font-size="10" font-weight="bold" fill="#000" font-family='"Liberation Sans", sans-serif' stroke="#000" stroke-width="0.22">200</text></g>
<g id="c_t300" transform="matrix(1.09 0 0 0.84 158.26 428.31)"><text x="0" y="0" font-size="10" font-weight="bold" fill="#000" font-family='"Liberation Sans", sans-serif' stroke="#000" stroke-width="0.22">300</text></g>
<g id="c_t400" transform="matrix(1.07 0 0 0.84 196.42 428.31)"><text x="0" y="0" font-size="10" font-weight="bold" fill="#000" font-family='"Liberation Sans", sans-serif' stroke="#000" stroke-width="0.22">400</text></g>
<line x1="53.8" y1="409.5" x2="57.8" y2="409.5" stroke="#111" stroke-width="1.1" stroke-linecap="butt"/>
<g id="c_l12" transform="matrix(1.1 0 0 0.94 37.4 412.41)"><text x="0" y="0" font-size="10" font-weight="bold" fill="#000" font-family='"Liberation Sans", sans-serif' stroke="#000" stroke-width="0.22">12</text></g>
<line x1="53.8" y1="402.62" x2="56.3" y2="402.62" stroke="#111" stroke-width="1.1" stroke-linecap="butt"/>
<line x1="53.8" y1="395.75" x2="57.8" y2="395.75" stroke="#111" stroke-width="1.1" stroke-linecap="butt"/>
<g id="c_l14" transform="matrix(1.06 0 0 0.94 37.37 398.6)"><text x="0" y="0" font-size="10" font-weight="bold" fill="#000" font-family='"Liberation Sans", sans-serif' stroke="#000" stroke-width="0.22">14</text></g>
<line x1="53.8" y1="388.88" x2="56.3" y2="388.88" stroke="#111" stroke-width="1.1" stroke-linecap="butt"/>
<line x1="53.8" y1="382" x2="57.8" y2="382" stroke="#111" stroke-width="1.1" stroke-linecap="butt"/>
<g id="c_l16" transform="matrix(1.09 0 0 0.94 37.37 384.84)"><text x="0" y="0" font-size="10" font-weight="bold" fill="#000" font-family='"Liberation Sans", sans-serif' stroke="#000" stroke-width="0.22">16</text></g>
<line x1="53.8" y1="375.12" x2="56.3" y2="375.12" stroke="#111" stroke-width="1.1" stroke-linecap="butt"/>
<line x1="53.8" y1="368.25" x2="57.8" y2="368.25" stroke="#111" stroke-width="1.1" stroke-linecap="butt"/>
<g id="c_l18" transform="matrix(1.1 0 0 0.94 37.26 371.07)"><text x="0" y="0" font-size="10" font-weight="bold" fill="#000" font-family='"Liberation Sans", sans-serif' stroke="#000" stroke-width="0.22">18</text></g>
<line x1="53.8" y1="361.38" x2="56.3" y2="361.38" stroke="#111" stroke-width="1.1" stroke-linecap="butt"/>
<line x1="53.8" y1="354.5" x2="57.8" y2="354.5" stroke="#111" stroke-width="1.1" stroke-linecap="butt"/>
<g id="c_l20" transform="matrix(1.08 0 0 0.94 37.62 357.3)"><text x="0" y="0" font-size="10" font-weight="bold" fill="#000" font-family='"Liberation Sans", sans-serif' stroke="#000" stroke-width="0.22">20</text></g>
<line x1="53.8" y1="347.62" x2="56.3" y2="347.62" stroke="#111" stroke-width="1.1" stroke-linecap="butt"/>
<line x1="53.8" y1="340.75" x2="57.8" y2="340.75" stroke="#111" stroke-width="1.1" stroke-linecap="butt"/>
<g id="c_l22" transform="matrix(1.06 0 0 0.94 37.71 343.6)"><text x="0" y="0" font-size="10" font-weight="bold" fill="#000" font-family='"Liberation Sans", sans-serif' stroke="#000" stroke-width="0.22">22</text></g>
<line x1="53.8" y1="333.88" x2="56.3" y2="333.88" stroke="#111" stroke-width="1.1" stroke-linecap="butt"/>
<line x1="53.8" y1="327" x2="57.8" y2="327" stroke="#111" stroke-width="1.1" stroke-linecap="butt"/>
<g id="c_l24" transform="matrix(1.04 0 0 0.94 37.62 329.94)"><text x="0" y="0" font-size="10" font-weight="bold" fill="#000" font-family='"Liberation Sans", sans-serif' stroke="#000" stroke-width="0.22">24</text></g>
<line x1="53.8" y1="320.12" x2="56.3" y2="320.12" stroke="#111" stroke-width="1.1" stroke-linecap="butt"/>
<line x1="53.8" y1="313.25" x2="57.8" y2="313.25" stroke="#111" stroke-width="1.1" stroke-linecap="butt"/>
<g id="c_l26" transform="matrix(1.06 0 0 0.94 37.71 316.22)"><text x="0" y="0" font-size="10" font-weight="bold" fill="#000" font-family='"Liberation Sans", sans-serif' stroke="#000" stroke-width="0.22">26</text></g>
<line x1="53.8" y1="306.38" x2="56.3" y2="306.38" stroke="#111" stroke-width="1.1" stroke-linecap="butt"/>
<line x1="53.8" y1="299.5" x2="57.8" y2="299.5" stroke="#111" stroke-width="1.1" stroke-linecap="butt"/>
<g id="c_l28" transform="matrix(1.07 0 0 0.94 37.61 302.3)"><text x="0" y="0" font-size="10" font-weight="bold" fill="#000" font-family='"Liberation Sans", sans-serif' stroke="#000" stroke-width="0.22">28</text></g>
<line x1="224.1" y1="415.8" x2="220.6" y2="415.8" stroke="#0000ff" stroke-width="1.1" stroke-linecap="butt"/>
<g id="c_r25" transform="matrix(1.06 0 0 1 228.32 418.45)"><text x="0" y="0" font-size="10" font-weight="bold" fill="#0000ff" font-family='"Liberation Sans", sans-serif' stroke="#0000ff" stroke-width="0.22">25</text></g>
<line x1="224.1" y1="406.35" x2="221.6" y2="406.35" stroke="#0000ff" stroke-width="1.1" stroke-linecap="butt"/>
<line x1="224.1" y1="396.9" x2="220.6" y2="396.9" stroke="#0000ff" stroke-width="1.1" stroke-linecap="butt"/>
<g id="c_r30" transform="matrix(1.05 0 0 0.96 228.31 399.49)"><text x="0" y="0" font-size="10" font-weight="bold" fill="#0000ff" font-family='"Liberation Sans", sans-serif' stroke="#0000ff" stroke-width="0.22">30</text></g>
<line x1="224.1" y1="387.45" x2="221.6" y2="387.45" stroke="#0000ff" stroke-width="1.1" stroke-linecap="butt"/>
<line x1="224.1" y1="378" x2="220.6" y2="378" stroke="#0000ff" stroke-width="1.1" stroke-linecap="butt"/>
<g id="c_r35" transform="matrix(1.03 0 0 0.98 228.38 380.64)"><text x="0" y="0" font-size="10" font-weight="bold" fill="#0000ff" font-family='"Liberation Sans", sans-serif' stroke="#0000ff" stroke-width="0.22">35</text></g>
<line x1="224.1" y1="368.55" x2="221.6" y2="368.55" stroke="#0000ff" stroke-width="1.1" stroke-linecap="butt"/>
<line x1="224.1" y1="359.1" x2="220.6" y2="359.1" stroke="#0000ff" stroke-width="1.1" stroke-linecap="butt"/>
<g id="c_r40" transform="matrix(1.04 0 0 0.98 228.47 361.77)"><text x="0" y="0" font-size="10" font-weight="bold" fill="#0000ff" font-family='"Liberation Sans", sans-serif' stroke="#0000ff" stroke-width="0.22">40</text></g>
<line x1="224.1" y1="349.65" x2="221.6" y2="349.65" stroke="#0000ff" stroke-width="1.1" stroke-linecap="butt"/>
<line x1="224.1" y1="340.2" x2="220.6" y2="340.2" stroke="#0000ff" stroke-width="1.1" stroke-linecap="butt"/>
<g id="c_r45" transform="matrix(1.03 0 0 1.01 228.49 342.94)"><text x="0" y="0" font-size="10" font-weight="bold" fill="#0000ff" font-family='"Liberation Sans", sans-serif' stroke="#0000ff" stroke-width="0.22">45</text></g>
<line x1="224.1" y1="330.75" x2="221.6" y2="330.75" stroke="#0000ff" stroke-width="1.1" stroke-linecap="butt"/>
<line x1="224.1" y1="321.3" x2="220.6" y2="321.3" stroke="#0000ff" stroke-width="1.1" stroke-linecap="butt"/>
<g id="c_r50" transform="matrix(1.05 0 0 0.99 228.32 324.03)"><text x="0" y="0" font-size="10" font-weight="bold" fill="#0000ff" font-family='"Liberation Sans", sans-serif' stroke="#0000ff" stroke-width="0.22">50</text></g>
<line x1="224.1" y1="311.85" x2="221.6" y2="311.85" stroke="#0000ff" stroke-width="1.1" stroke-linecap="butt"/>
<line x1="224.1" y1="302.4" x2="220.6" y2="302.4" stroke="#0000ff" stroke-width="1.1" stroke-linecap="butt"/>
<g id="c_r55" transform="matrix(1.04 0 0 1.01 228.27 305.12)"><text x="0" y="0" font-size="10" font-weight="bold" fill="#0000ff" font-family='"Liberation Sans", sans-serif' stroke="#0000ff" stroke-width="0.22">55</text></g>
<polyline points="65.37,387.98 91.9,384.27 129.8,400.98 167.7,319.44 205.6,306.51" fill="none" stroke="#1a1a1a" stroke-width="1.1"/>
<polyline points="65.37,376.49 91.9,388.21 129.8,399.92 167.7,305.2 205.6,318.92" fill="none" stroke="#0000ff" stroke-width="1.1"/>
<line x1="65.37" y1="385.16" x2="65.37" y2="390.8" stroke="#1a1a1a" stroke-width="1.0" stroke-linecap="butt"/>
<line x1="63.37" y1="385.16" x2="67.37" y2="385.16" stroke="#1a1a1a" stroke-width="1.0" stroke-linecap="butt"/>
<line x1="63.37" y1="390.8" x2="67.37" y2="390.8" stroke="#1a1a1a" stroke-width="1.0" stroke-linecap="butt"/>
<circle cx="65.37" cy="387.98" r="1.3" fill="#1a1a1a"/>
<line x1="91.9" y1="382.27" x2="91.9" y2="386.26" stroke="#1a1a1a" stroke-width="1.0" stroke-linecap="butt"/>
<line x1="89.9" y1="382.27" x2="93.9" y2="382.27" stroke="#1a1a1a" stroke-width="1.0" stroke-linecap="butt"/>
<line x1="89.9" y1="386.26" x2="93.9" y2="386.26" stroke="#1a1a1a" stroke-width="1.0" stroke-linecap="butt"/>
<circle cx="91.9" cy="384.27" r="1.3" fill="#1a1a1a"/>
<line x1="129.8" y1="399.6" x2="129.8" y2="402.35" stroke="#1a1a1a" stroke-width="1.0" stroke-linecap="butt"/>
<line x1="127.8" y1="399.6" x2="131.8" y2="399.6" stroke="#1a1a1a" stroke-width="1.0" stroke-linecap="butt"/>
<line x1="127.8" y1="402.35" x2="131.8" y2="402.35" stroke="#1a1a1a" stroke-width="1.0" stroke-linecap="butt"/>
<circle cx="129.8" cy="400.98" r="1.3" fill="#1a1a1a"/>
<line x1="167.7" y1="317.72" x2="167.7" y2="321.16" stroke="#1a1a1a" stroke-width="1.0" stroke-linecap="butt"/>
<line x1="165.7" y1="317.72" x2="169.7" y2="317.72" stroke="#1a1a1a" stroke-width="1.0" stroke-linecap="butt"/>
<line x1="165.7" y1="321.16" x2="169.7" y2="321.16" stroke="#1a1a1a" stroke-width="1.0" stroke-linecap="butt"/>
<circle cx="167.7" cy="319.44" r="1.3" fill="#1a1a1a"/>
<line x1="205.6" y1="303.83" x2="205.6" y2="309.19" stroke="#1a1a1a" stroke-width="1.0" stroke-linecap="butt"/>
<line x1="203.6" y1="303.83" x2="207.6" y2="303.83" stroke="#1a1a1a" stroke-width="1.0" stroke-linecap="butt"/>
<line x1="203.6" y1="309.19" x2="207.6" y2="309.19" stroke="#1a1a1a" stroke-width="1.0" stroke-linecap="butt"/>
<circle cx="205.6" cy="306.51" r="1.3" fill="#1a1a1a"/>
<line x1="65.37" y1="375.17" x2="65.37" y2="377.81" stroke="#0000ff" stroke-width="1.0" stroke-linecap="butt"/>
<line x1="63.37" y1="375.17" x2="67.37" y2="375.17" stroke="#0000ff" stroke-width="1.0" stroke-linecap="butt"/>
<line x1="63.37" y1="377.81" x2="67.37" y2="377.81" stroke="#0000ff" stroke-width="1.0" stroke-linecap="butt"/>
<circle cx="65.37" cy="376.49" r="1.5" fill="#0000ff"/>
<line x1="91.9" y1="387.07" x2="91.9" y2="389.34" stroke="#0000ff" stroke-width="1.0" stroke-linecap="butt"/>
<line x1="89.9" y1="387.07" x2="93.9" y2="387.07" stroke="#0000ff" stroke-width="1.0" stroke-linecap="butt"/>
<line x1="89.9" y1="389.34" x2="93.9" y2="389.34" stroke="#0000ff" stroke-width="1.0" stroke-linecap="butt"/>
<circle cx="91.9" cy="388.21" r="1.5" fill="#0000ff"/>
<line x1="129.8" y1="398.79" x2="129.8" y2="401.06" stroke="#0000ff" stroke-width="1.0" stroke-linecap="butt"/>
<line x1="127.8" y1="398.79" x2="131.8" y2="398.79" stroke="#0000ff" stroke-width="1.0" stroke-linecap="butt"/>
<line x1="127.8" y1="401.06" x2="131.8" y2="401.06" stroke="#0000ff" stroke-width="1.0" stroke-linecap="butt"/>
<circle cx="129.8" cy="399.92" r="1.5" fill="#0000ff"/>
<line x1="167.7" y1="304.06" x2="167.7" y2="306.33" stroke="#0000ff" stroke-width="1.0" stroke-linecap="butt"/>
<line x1="165.7" y1="304.06" x2="169.7" y2="304.06" stroke="#0000ff" stroke-width="1.0" stroke-linecap="butt"/>
<line x1="165.7" y1="306.33" x2="169.7" y2="306.33" stroke="#0000ff" stroke-width="1.0" stroke-linecap="butt"/>
<circle cx="167.7" cy="305.2" r="1.5" fill="#0000ff"/>
<line x1="205.6" y1="317.78" x2="205.6" y2="320.05" stroke="#0000ff" stroke-width="1.0" stroke-linecap="butt"/>
<line x1="203.6" y1="317.78" x2="207.6" y2="317.78" stroke="#0000ff" stroke-width="1.0" stroke-linecap="butt"/>
<line x1="203.6" y1="320.05" x2="207.6" y2="320.05" stroke="#0000ff" stroke-width="1.0" stroke-linecap="butt"/>
<circle cx="205.6" cy="318.92" r="1.5" fill="#0000ff"/>
<line x1="59" y1="388" x2="65" y2="388" stroke="#1a1a1a" stroke-width="1.0" stroke-linecap="butt"/>
<polygon points="56.5,388 60,386.3 60,389.7" fill="#1a1a1a"/>
<line x1="209.3" y1="321" x2="214" y2="321" stroke="#1a1a1a" stroke-width="1.0" stroke-linecap="butt"/>
<polygon points="217,321 213.5,319.3 213.5,322.7" fill="#1a1a1a"/>
<line x1="61.1" y1="301.5" x2="73.9" y2="301.5" stroke="#1a1a1a" stroke-width="1.0" stroke-linecap="butt"/>
<circle cx="67.5" cy="301.5" r="1.6" fill="#1a1a1a"/>
<g id="c_lgG" transform="matrix(1.18 0 0 0.94 75.48 303.16)"><text x="0" y="0" font-size="8" font-weight="bold" fill="#000" font-family='"Liberation Sans", sans-serif' stroke="#000" stroke-width="0.12">G</text></g>
<line x1="61.1" y1="312.7" x2="73.9" y2="312.7" stroke="#0000ff" stroke-width="1.2" stroke-linecap="butt"/>
<circle cx="67.5" cy="312.7" r="1.6" fill="#0000ff"/>
<g id="c_lg2D" transform="matrix(1.02 0 0 0.99 75.83 313.97)"><text x="0" y="0" font-size="8" font-weight="bold" fill="#000" font-family='"Liberation Sans", sans-serif' stroke="#000" stroke-width="0.12">2D</text></g>
<g id="c_yl1" transform="matrix(0.94 0 0 0.92 31.12 404.92)"><text x="0" y="0" transform="rotate(-90)" font-size="14" font-weight="bold" fill="#000" font-family='"Liberation Sans", sans-serif' stroke="#000" stroke-width="0.3">FWHM</text></g>
<g id="c_yl2" transform="matrix(1.17 0 0 1.29 34.61 365.09)"><text x="0" y="0" transform="rotate(-90)" font-size="10" font-weight="bold" fill="#000" font-family='"Liberation Sans", sans-serif' stroke="#000" stroke-width="0.22">G</text></g>
<g id="c_yl3" transform="matrix(0.83 0 0 0.85 30.76 351.03)"><text x="0" y="0" transform="rotate(-90)" font-size="14" font-weight="bold" fill="#000" font-family='"Liberation Sans", sans-serif' stroke="#000" stroke-width="0.3">(</text></g>
<g id="c_yl4" transform="matrix(1.13 0 0 0.84 30.68 346.72)"><text x="0" y="0" transform="rotate(-90)" font-size="14" font-weight="bold" fill="#000" font-family='"Liberation Sans", sans-serif' stroke="#000" stroke-width="0.3">cm</text></g>
<g id="c_yl5" transform="matrix(1.23 0 0 0.99 25.51 328.68)"><text x="0" y="0" transform="rotate(-90)" font-size="10" font-weight="bold" fill="#000" font-family='"Liberation Sans", sans-serif' stroke="#000" stroke-width="0.22">-1</text></g>
<g id="c_yl6" transform="matrix(0.88 0 0 0.86 30.78 317.61)"><text x="0" y="0" transform="rotate(-90)" font-size="14" font-weight="bold" fill="#000" font-family='"Liberation Sans", sans-serif' stroke="#000" stroke-width="0.3">)</text></g>
<g id="c_yr1" transform="matrix(1 0 0 0.87 254.06 397.3)"><text x="0" y="0" transform="rotate(-90)" font-size="14" font-weight="bold" fill="#000" font-family='"Liberation Sans", sans-serif' stroke="#000" stroke-width="0.3">FWHM</text></g>
<g id="c_yr2" transform="matrix(1.3 0 0 1.21 256.56 359.87)"><text x="0" y="0" transform="rotate(-90)" font-size="10" font-weight="bold" fill="#000" font-family='"Liberation Sans", sans-serif' stroke="#000" stroke-width="0.22">2D</text></g>
<g id="c_yr3" transform="matrix(0.87 0 0 1.01 252.91 340.96)"><text x="0" y="0" transform="rotate(-90)" font-size="14" font-weight="bold" fill="#000" font-family='"Liberation Sans", sans-serif' stroke="#000" stroke-width="0.3">(</text></g>
<g id="c_yr4" transform="matrix(1.14 0 0 0.82 254.18 335.17)"><text x="0" y="0" transform="rotate(-90)" font-size="14" font-weight="bold" fill="#000" font-family='"Liberation Sans", sans-serif' stroke="#000" stroke-width="0.3">cm</text></g>
<g id="c_yr5" transform="matrix(1.39 0 0 1.33 249.84 318.83)"><text x="0" y="0" transform="rotate(-90)" font-size="10" font-weight="bold" fill="#000" font-family='"Liberation Sans", sans-serif' stroke="#000" stroke-width="0.22">-1</text></g>
<g id="c_yr6" transform="matrix(0.96 0 0 0.92 252.67 306.7)"><text x="0" y="0" transform="rotate(-90)" font-size="14" font-weight="bold" fill="#000" font-family='"Liberation Sans", sans-serif' stroke="#000" stroke-width="0.3">)</text></g>
<g id="c_xl1" transform="matrix(0.99 0 0 0.99 94 441.39)"><text x="0" y="0" font-size="12.5" font-weight="bold" fill="#000" font-family='"Liberation Sans", sans-serif' stroke="#000" stroke-width="0.3">Temperature</text></g>
<g id="c_xl2" transform="matrix(0.98 0 0 0.95 172.61 441.47)"><text x="0" y="0" font-size="12.5" font-weight="bold" fill="#000" font-family='"Liberation Sans", sans-serif' stroke="#000" stroke-width="0.3">(<tspan font-weight="normal" font-size="11">°</tspan>C)</text></g>
<g id="c_lab" transform="matrix(1.01 0 0 0.94 0.05 306.1)"><text x="0" y="0" font-size="20" font-weight="normal" fill="#000" font-family='"Liberation Serif", serif' stroke="#000" stroke-width="0.45">(c)</text></g>
<line x1="308.5" y1="293" x2="479.4" y2="293" stroke="#111" stroke-width="1.4" stroke-linecap="butt"/>
<line x1="308.5" y1="292.3" x2="308.5" y2="417.7" stroke="#111" stroke-width="1.4" stroke-linecap="butt"/>
<line x1="308.5" y1="417" x2="479.4" y2="417" stroke="#111" stroke-width="1.4" stroke-linecap="butt"/>
<line x1="479.4" y1="292.3" x2="479.4" y2="417.7" stroke="#0000ff" stroke-width="1.4" stroke-linecap="butt"/>
<line x1="323.9" y1="417" x2="323.9" y2="413" stroke="#111" stroke-width="1.1" stroke-linecap="butt"/>
<line x1="339.45" y1="417" x2="339.45" y2="415" stroke="#111" stroke-width="1.1" stroke-linecap="butt"/>
<line x1="355" y1="417" x2="355" y2="413" stroke="#111" stroke-width="1.1" stroke-linecap="butt"/>
<line x1="370.55" y1="417" x2="370.55" y2="415" stroke="#111" stroke-width="1.1" stroke-linecap="butt"/>
<line x1="386.1" y1="417" x2="386.1" y2="413" stroke="#111" stroke-width="1.1" stroke-linecap="butt"/>
<line x1="401.65" y1="417" x2="401.65" y2="415" stroke="#111" stroke-width="1.1" stroke-linecap="butt"/>
<line x1="417.2" y1="417" x2="417.2" y2="413" stroke="#111" stroke-width="1.1" stroke-linecap="butt"/>
<line x1="432.75" y1="417" x2="432.75" y2="415" stroke="#111" stroke-width="1.1" stroke-linecap="butt"/>
<line x1="448.3" y1="417" x2="448.3" y2="413" stroke="#111" stroke-width="1.1" stroke-linecap="butt"/>
<line x1="463.85" y1="417" x2="463.85" y2="415" stroke="#111" stroke-width="1.1" stroke-linecap="butt"/>
<g id="d_t0" transform="matrix(1 0 0 0.94 321.23 429.34)"><text x="0" y="0" font-size="10" font-weight="bold" fill="#000" font-family='"Liberation Sans", sans-serif' stroke="#000" stroke-width="0.22">0</text></g>
<g id="d_t100" transform="matrix(1.16 0 0 0.94 344.97 429.34)"><text x="0" y="0" font-size="10" font-weight="bold" fill="#000" font-family='"Liberation Sans", sans-serif' stroke="#000" stroke-width="0.22">100</text></g>
<g id="d_t200" transform="matrix(1.14 0 0 0.94 376.5 429.34)"><text x="0" y="0" font-size="10" font-weight="bold" fill="#000" font-family='"Liberation Sans", sans-serif' stroke="#000" stroke-width="0.22">200</text></g>
<g id="d_t300" transform="matrix(1.1 0 0 0.94 407.75 429.34)"><text x="0" y="0" font-size="10" font-weight="bold" fill="#000" font-family='"Liberation Sans", sans-serif' stroke="#000" stroke-width="0.22">300</text></g>
<g id="d_t400" transform="matrix(1.1 0 0 0.94 439.17 429.34)"><text x="0" y="0" font-size="10" font-weight="bold" fill="#000" font-family='"Liberation Sans", sans-serif' stroke="#000" stroke-width="0.22">400</text></g>
<g id="d_t500" transform="matrix(1.11 0 0 0.94 469.91 429.34)"><text x="0" y="0" font-size="10" font-weight="bold" fill="#000" font-family='"Liberation Sans", sans-serif' stroke="#000" stroke-width="0.22">500</text></g>
<line x1="308.5" y1="404.2" x2="312.5" y2="404.2" stroke="#111" stroke-width="1.1" stroke-linecap="butt"/>
<g id="d_l0" transform="matrix(1.06 0 0 0.97 289.71 407.26)"><text x="0" y="0" font-size="10" font-weight="bold" fill="#000" font-family='"Liberation Sans", sans-serif' stroke="#000" stroke-width="0.22">0.0</text></g>
<line x1="308.5" y1="391.85" x2="311" y2="391.85" stroke="#111" stroke-width="1.1" stroke-linecap="butt"/>
<line x1="308.5" y1="379.5" x2="312.5" y2="379.5" stroke="#111" stroke-width="1.1" stroke-linecap="butt"/>
<g id="d_l2" transform="matrix(1.03 0 0 0.96 289.76 382.59)"><text x="0" y="0" font-size="10" font-weight="bold" fill="#000" font-family='"Liberation Sans", sans-serif' stroke="#000" stroke-width="0.22">0.5</text></g>
<line x1="308.5" y1="367.15" x2="311" y2="367.15" stroke="#111" stroke-width="1.1" stroke-linecap="butt"/>
<line x1="308.5" y1="354.8" x2="312.5" y2="354.8" stroke="#111" stroke-width="1.1" stroke-linecap="butt"/>
<g id="d_l4" transform="matrix(1.08 0 0 0.96 289.37 357.84)"><text x="0" y="0" font-size="10" font-weight="bold" fill="#000" font-family='"Liberation Sans", sans-serif' stroke="#000" stroke-width="0.22">1.0</text></g>
<line x1="308.5" y1="342.45" x2="311" y2="342.45" stroke="#111" stroke-width="1.1" stroke-linecap="butt"/>
<line x1="308.5" y1="330.1" x2="312.5" y2="330.1" stroke="#111" stroke-width="1.1" stroke-linecap="butt"/>
<g id="d_l6" transform="matrix(1.07 0 0 0.98 289.44 333.27)"><text x="0" y="0" font-size="10" font-weight="bold" fill="#000" font-family='"Liberation Sans", sans-serif' stroke="#000" stroke-width="0.22">1.5</text></g>
<line x1="308.5" y1="317.75" x2="311" y2="317.75" stroke="#111" stroke-width="1.1" stroke-linecap="butt"/>
<line x1="308.5" y1="305.4" x2="312.5" y2="305.4" stroke="#111" stroke-width="1.1" stroke-linecap="butt"/>
<g id="d_l8" transform="matrix(1.05 0 0 0.98 289.74 308.51)"><text x="0" y="0" font-size="10" font-weight="bold" fill="#000" font-family='"Liberation Sans", sans-serif' stroke="#000" stroke-width="0.22">2.0</text></g>
<line x1="308.5" y1="293.05" x2="311" y2="293.05" stroke="#111" stroke-width="1.1" stroke-linecap="butt"/>
<line x1="479.4" y1="405.5" x2="475.9" y2="405.5" stroke="#0000ff" stroke-width="1.1" stroke-linecap="butt"/>
<g id="d_r0" transform="matrix(1.13 0 0 0.99 482.97 407.76)"><text x="0" y="0" font-size="10" font-weight="bold" fill="#0000ff" font-family='"Liberation Sans", sans-serif' stroke="#0000ff" stroke-width="0.22">0</text></g>
<line x1="479.4" y1="394.05" x2="476.9" y2="394.05" stroke="#0000ff" stroke-width="1.1" stroke-linecap="butt"/>
<line x1="479.4" y1="382.6" x2="475.9" y2="382.6" stroke="#0000ff" stroke-width="1.1" stroke-linecap="butt"/>
<g id="d_r100" transform="matrix(1.13 0 0 0.98 482.63 384.86)"><text x="0" y="0" font-size="10" font-weight="bold" fill="#0000ff" font-family='"Liberation Sans", sans-serif' stroke="#0000ff" stroke-width="0.22">100</text></g>
<line x1="479.4" y1="371.15" x2="476.9" y2="371.15" stroke="#0000ff" stroke-width="1.1" stroke-linecap="butt"/>
<line x1="479.4" y1="359.7" x2="475.9" y2="359.7" stroke="#0000ff" stroke-width="1.1" stroke-linecap="butt"/>
<g id="d_r200" transform="matrix(1.12 0 0 0.99 482.86 362)"><text x="0" y="0" font-size="10" font-weight="bold" fill="#0000ff" font-family='"Liberation Sans", sans-serif' stroke="#0000ff" stroke-width="0.22">200</text></g>
<line x1="479.4" y1="348.25" x2="476.9" y2="348.25" stroke="#0000ff" stroke-width="1.1" stroke-linecap="butt"/>
<line x1="479.4" y1="336.8" x2="475.9" y2="336.8" stroke="#0000ff" stroke-width="1.1" stroke-linecap="butt"/>
<g id="d_r300" transform="matrix(1.11 0 0 0.98 483.1 338.99)"><text x="0" y="0" font-size="10" font-weight="bold" fill="#0000ff" font-family='"Liberation Sans", sans-serif' stroke="#0000ff" stroke-width="0.22">300</text></g>
<line x1="479.4" y1="325.35" x2="476.9" y2="325.35" stroke="#0000ff" stroke-width="1.1" stroke-linecap="butt"/>
<line x1="479.4" y1="313.9" x2="475.9" y2="313.9" stroke="#0000ff" stroke-width="1.1" stroke-linecap="butt"/>
<g id="d_r400" transform="matrix(1.11 0 0 0.99 483.19 316.2)"><text x="0" y="0" font-size="10" font-weight="bold" fill="#0000ff" font-family='"Liberation Sans", sans-serif' stroke="#0000ff" stroke-width="0.22">400</text></g>
<line x1="479.4" y1="302.45" x2="476.9" y2="302.45" stroke="#0000ff" stroke-width="1.1" stroke-linecap="butt"/>
<polyline points="333.23,397.88 355,394.52 386.1,390.91 401.65,367 417.2,367 432.75,341.71 448.3,325.8 463.85,306.39" fill="none" stroke="#1a1a1a" stroke-width="1.1"/>
<polyline points="333.23,337.81 355,363 386.1,372.75 401.65,393.41 417.2,393.41 432.75,398.49 448.3,400 463.85,401.1" fill="none" stroke="#0000ff" stroke-width="1.1"/>
<line x1="333.23" y1="395.41" x2="333.23" y2="400.35" stroke="#1a1a1a" stroke-width="1.0" stroke-linecap="butt"/>
<line x1="331.03" y1="395.41" x2="335.43" y2="395.41" stroke="#1a1a1a" stroke-width="1.0" stroke-linecap="butt"/>
<line x1="331.03" y1="400.35" x2="335.43" y2="400.35" stroke="#1a1a1a" stroke-width="1.0" stroke-linecap="butt"/>
<circle cx="333.23" cy="397.88" r="1.4" fill="#1a1a1a"/>
<line x1="355" y1="390.71" x2="355" y2="398.32" stroke="#1a1a1a" stroke-width="1.0" stroke-linecap="butt"/>
<line x1="352.8" y1="390.71" x2="357.2" y2="390.71" stroke="#1a1a1a" stroke-width="1.0" stroke-linecap="butt"/>
<line x1="352.8" y1="398.32" x2="357.2" y2="398.32" stroke="#1a1a1a" stroke-width="1.0" stroke-linecap="butt"/>
<circle cx="355" cy="394.52" r="1.4" fill="#1a1a1a"/>
<line x1="386.1" y1="387.95" x2="386.1" y2="393.88" stroke="#1a1a1a" stroke-width="1.0" stroke-linecap="butt"/>
<line x1="383.9" y1="387.95" x2="388.3" y2="387.95" stroke="#1a1a1a" stroke-width="1.0" stroke-linecap="butt"/>
<line x1="383.9" y1="393.88" x2="388.3" y2="393.88" stroke="#1a1a1a" stroke-width="1.0" stroke-linecap="butt"/>
<circle cx="386.1" cy="390.91" r="1.4" fill="#1a1a1a"/>
<line x1="401.65" y1="365.52" x2="401.65" y2="368.48" stroke="#1a1a1a" stroke-width="1.0" stroke-linecap="butt"/>
<line x1="399.45" y1="365.52" x2="403.85" y2="365.52" stroke="#1a1a1a" stroke-width="1.0" stroke-linecap="butt"/>
<line x1="399.45" y1="368.48" x2="403.85" y2="368.48" stroke="#1a1a1a" stroke-width="1.0" stroke-linecap="butt"/>
<circle cx="401.65" cy="367" r="1.4" fill="#1a1a1a"/>
<circle cx="417.2" cy="367" r="1.4" fill="#1a1a1a"/>
<line x1="432.75" y1="341.21" x2="432.75" y2="342.2" stroke="#1a1a1a" stroke-width="1.0" stroke-linecap="butt"/>
<line x1="430.55" y1="341.21" x2="434.95" y2="341.21" stroke="#1a1a1a" stroke-width="1.0" stroke-linecap="butt"/>
<line x1="430.55" y1="342.2" x2="434.95" y2="342.2" stroke="#1a1a1a" stroke-width="1.0" stroke-linecap="butt"/>
<circle cx="432.75" cy="341.71" r="1.4" fill="#1a1a1a"/>
<line x1="448.3" y1="324.81" x2="448.3" y2="326.79" stroke="#1a1a1a" stroke-width="1.0" stroke-linecap="butt"/>
<line x1="446.1" y1="324.81" x2="450.5" y2="324.81" stroke="#1a1a1a" stroke-width="1.0" stroke-linecap="butt"/>
<line x1="446.1" y1="326.79" x2="450.5" y2="326.79" stroke="#1a1a1a" stroke-width="1.0" stroke-linecap="butt"/>
<circle cx="448.3" cy="325.8" r="1.4" fill="#1a1a1a"/>
<line x1="463.85" y1="305.4" x2="463.85" y2="307.38" stroke="#1a1a1a" stroke-width="1.0" stroke-linecap="butt"/>
<line x1="461.65" y1="305.4" x2="466.05" y2="305.4" stroke="#1a1a1a" stroke-width="1.0" stroke-linecap="butt"/>
<line x1="461.65" y1="307.38" x2="466.05" y2="307.38" stroke="#1a1a1a" stroke-width="1.0" stroke-linecap="butt"/>
<circle cx="463.85" cy="306.39" r="1.4" fill="#1a1a1a"/>
<line x1="333.23" y1="309.41" x2="333.23" y2="366.2" stroke="#0000ff" stroke-width="1.2" stroke-linecap="butt"/>
<line x1="330.73" y1="309.41" x2="335.73" y2="309.41" stroke="#0000ff" stroke-width="1.2" stroke-linecap="butt"/>
<line x1="330.73" y1="366.2" x2="335.73" y2="366.2" stroke="#0000ff" stroke-width="1.2" stroke-linecap="butt"/>
<circle cx="333.23" cy="337.81" r="1.4" fill="#0000ff"/>
<line x1="355" y1="343.76" x2="355" y2="382.23" stroke="#0000ff" stroke-width="1.2" stroke-linecap="butt"/>
<line x1="352.5" y1="343.76" x2="357.5" y2="343.76" stroke="#0000ff" stroke-width="1.2" stroke-linecap="butt"/>
<line x1="352.5" y1="382.23" x2="357.5" y2="382.23" stroke="#0000ff" stroke-width="1.2" stroke-linecap="butt"/>
<circle cx="355" cy="363" r="1.4" fill="#0000ff"/>
<line x1="386.1" y1="366.8" x2="386.1" y2="378.71" stroke="#0000ff" stroke-width="1.2" stroke-linecap="butt"/>
<line x1="383.6" y1="366.8" x2="388.6" y2="366.8" stroke="#0000ff" stroke-width="1.2" stroke-linecap="butt"/>
<line x1="383.6" y1="378.71" x2="388.6" y2="378.71" stroke="#0000ff" stroke-width="1.2" stroke-linecap="butt"/>
<circle cx="386.1" cy="372.75" r="1.4" fill="#0000ff"/>
<circle cx="401.65" cy="393.41" r="1.4" fill="#0000ff"/>
<circle cx="417.2" cy="393.41" r="1.4" fill="#0000ff"/>
<circle cx="432.75" cy="398.49" r="1.4" fill="#0000ff"/>
<circle cx="448.3" cy="400" r="1.4" fill="#0000ff"/>
<circle cx="463.85" cy="401.1" r="1.4" fill="#0000ff"/>
<line x1="320" y1="391.6" x2="348" y2="391.6" stroke="#1a1a1a" stroke-width="1.1" stroke-linecap="butt"/>
<polygon points="315.5,391.6 321,389.6 321,393.6" fill="#1a1a1a"/>
<line x1="432.6" y1="392" x2="463" y2="392" stroke="#0000ff" stroke-width="1.3" stroke-linecap="butt"/>
<polygon points="468.5,392 462.5,390 462.5,394" fill="#0000ff"/>
<g id="d_yl1" transform="matrix(1.07 0 0 1.11 279.48 369.14)"><text x="0" y="0" transform="rotate(-90)" font-size="14" font-weight="bold" fill="#000" font-family='"Liberation Sans", sans-serif' stroke="#000" stroke-width="0.3">I</text></g>
<g id="d_yl2" transform="matrix(1.04 0 0 1 286.13 364.2)"><text x="0" y="0" transform="rotate(-90)" font-size="9" font-weight="bold" fill="#000" font-family='"Liberation Sans", sans-serif' stroke="#000" stroke-width="0.12">D</text></g>
<g id="d_yl3" transform="matrix(0.97 0 0 1.09 279.28 358)"><text x="0" y="0" transform="rotate(-90)" font-size="14" font-weight="bold" fill="#000" font-family='"Liberation Sans", sans-serif' stroke="#000" stroke-width="0.3">/I</text></g>
<g id="d_yl4" transform="matrix(1.01 0 0 0.99 285.77 350.3)"><text x="0" y="0" transform="rotate(-90)" font-size="9" font-weight="bold" fill="#000" font-family='"Liberation Sans", sans-serif' stroke="#000" stroke-width="0.12">G</text></g>
<g id="d_yr1" transform="matrix(1.1 0 0 1.21 509.37 374.86)"><text x="0" y="0" transform="rotate(-90)" font-size="11" font-weight="bold" fill="#000" font-family='"Liberation Sans", sans-serif' stroke="#000" stroke-width="0.22">L</text></g>
<g id="d_yr2" transform="matrix(1.26 0 0 1.31 512.37 366.49)"><text x="0" y="0" transform="rotate(-90)" font-size="9" font-weight="bold" fill="#000" font-family='"Liberation Sans", sans-serif' stroke="#000" stroke-width="0.12">a</text></g>
<g id="d_yr3" transform="matrix(1.06 0 0 1.22 509.54 357.12)"><text x="0" y="0" transform="rotate(-90)" font-size="11" font-weight="bold" fill="#000" font-family='"Liberation Sans", sans-serif' stroke="#000" stroke-width="0.22">(nm)</text></g>
<g id="d_xl1" transform="matrix(0.99 0 0 0.99 344.54 441.39)"><text x="0" y="0" font-size="12.5" font-weight="bold" fill="#000" font-family='"Liberation Sans", sans-serif' stroke="#000" stroke-width="0.3">Temperature</text></g>
<g id="d_xl2" transform="matrix(0.96 0 0 0.91 422.81 441.28)"><text x="0" y="0" font-size="12.5" font-weight="bold" fill="#000" font-family='"Liberation Sans", sans-serif' stroke="#000" stroke-width="0.3">(<tspan font-weight="normal" font-size="11">°</tspan>C)</text></g>
<g id="d_lab" transform="matrix(0.94 0 0 0.93 262.41 306.17)"><text x="0" y="0" font-size="20" font-weight="normal" fill="#000" font-family='"Liberation Serif", serif' stroke="#000" stroke-width="0.45">(d)</text></g>
<line x1="553.1" y1="293.8" x2="722.8" y2="293.8" stroke="#111" stroke-width="1.4" stroke-linecap="butt"/>
<line x1="553.1" y1="293.1" x2="553.1" y2="417.5" stroke="#111" stroke-width="1.4" stroke-linecap="butt"/>
<line x1="553.1" y1="416.8" x2="722.8" y2="416.8" stroke="#111" stroke-width="1.4" stroke-linecap="butt"/>
<line x1="722.8" y1="293.1" x2="722.8" y2="417.5" stroke="#111" stroke-width="1.4" stroke-linecap="butt"/>
<line x1="573.4" y1="416.8" x2="573.4" y2="414.8" stroke="#111" stroke-width="1.1" stroke-linecap="butt"/>
<line x1="593.7" y1="416.8" x2="593.7" y2="412.8" stroke="#111" stroke-width="1.1" stroke-linecap="butt"/>
<line x1="614" y1="416.8" x2="614" y2="414.8" stroke="#111" stroke-width="1.1" stroke-linecap="butt"/>
<line x1="634.3" y1="416.8" x2="634.3" y2="412.8" stroke="#111" stroke-width="1.1" stroke-linecap="butt"/>
<line x1="654.6" y1="416.8" x2="654.6" y2="414.8" stroke="#111" stroke-width="1.1" stroke-linecap="butt"/>
<line x1="674.9" y1="416.8" x2="674.9" y2="412.8" stroke="#111" stroke-width="1.1" stroke-linecap="butt"/>
<line x1="695.2" y1="416.8" x2="695.2" y2="414.8" stroke="#111" stroke-width="1.1" stroke-linecap="butt"/>
<line x1="715.5" y1="416.8" x2="715.5" y2="412.8" stroke="#111" stroke-width="1.1" stroke-linecap="butt"/>
<g id="e_t1000" transform="matrix(1 0 0 0.88 541.58 428.43)"><text x="0" y="0" font-size="10" font-weight="bold" fill="#000" font-family='"Liberation Sans", sans-serif' stroke="#000" stroke-width="0.22">1000</text></g>
<g id="e_t1500" transform="matrix(1.04 0 0 0.88 582.14 428.43)"><text x="0" y="0" font-size="10" font-weight="bold" fill="#000" font-family='"Liberation Sans", sans-serif' stroke="#000" stroke-width="0.22">1500</text></g>
<g id="e_t2000" transform="matrix(1.01 0 0 0.88 622.74 428.43)"><text x="0" y="0" font-size="10" font-weight="bold" fill="#000" font-family='"Liberation Sans", sans-serif' stroke="#000" stroke-width="0.22">2000</text></g>
<g id="e_t2500" transform="matrix(1.02 0 0 0.88 663.03 428.43)"><text x="0" y="0" font-size="10" font-weight="bold" fill="#000" font-family='"Liberation Sans", sans-serif' stroke="#000" stroke-width="0.22">2500</text></g>
<g id="e_t3000" transform="matrix(1 0 0 0.88 703.94 428.43)"><text x="0" y="0" font-size="10" font-weight="bold" fill="#000" font-family='"Liberation Sans", sans-serif' stroke="#000" stroke-width="0.22">3000</text></g>
<polyline points="561.22,349.21 561.48,349.46 561.74,349.38 561.99,349.33 562.25,349.07 562.51,349.19 562.77,348.97 563.02,348.86 563.28,348.67 563.54,349 563.8,349.24 564.05,349.63 564.31,349.62 564.57,350.02 564.83,349.55 565.08,349.48 565.34,348.98 565.6,349.12 565.86,349.2 566.11,349.17 566.37,349.19 566.63,349.4 566.89,349.13 567.14,349.24 567.4,348.85 567.66,349.34 567.92,349.47 568.17,349.27 568.43,349.18 568.69,349.14 568.95,349.35 569.2,349 569.46,349.35 569.72,349.17 569.98,349.37 570.23,348.77 570.49,349.21 570.75,349.19 571.01,349.06 571.26,348.89 571.52,349.04 571.78,349.4 572.04,349.47 572.3,349.2 572.55,349.08 572.81,349.06 573.07,349.04 573.33,349.26 573.58,349.4 573.84,349.08 574.1,348.98 574.36,348.41 574.61,348.83 574.87,348.72 575.13,348.88 575.39,348.97 575.64,349.03 575.9,349.1 576.16,348.95 576.42,348.58 576.67,348.09 576.93,348.11 577.19,348.24 577.45,348.27 577.7,347.73 577.96,347.07 578.22,346.96 578.48,346.46 578.73,346.05 578.99,345.43 579.25,344.53 579.51,343.82 579.76,342.6 580.02,342.37 580.28,342.35 580.54,342.79 580.79,343.4 581.05,344.23 581.31,345.36 581.57,346.43 581.83,346.8 582.08,347.16 582.34,347.49 582.6,348.26 582.86,348.56 583.11,348.59 583.37,348.27 583.63,348.55 583.89,348.76 584.14,348.9 584.4,348.76 584.66,348.47 584.92,348.38 585.17,348.59 585.43,349.2 585.69,349.4 585.95,349.38 586.2,348.92 586.46,349.41 586.72,349.29 586.98,349.3 587.23,348.89 587.49,348.75 587.75,348.7 588.01,348.51 588.26,348.3 588.52,348.01 588.78,347.76 589.04,347.84 589.29,347.99 589.55,348.07 589.81,348.08 590.07,348.27 590.32,348.37 590.58,348.33 590.84,348.35 591.1,348.68 591.35,348.79 591.61,348.89 591.87,348.99 592.13,349.16 592.39,349.3 592.64,348.98 592.9,349.03 593.16,348.74 593.42,348.59 593.67,348.27 593.93,348.28 594.19,348.85 594.45,349.1 594.7,349.24 594.96,348.62 595.22,348.19 595.48,347.78 595.73,347.74 595.99,347.81 596.25,347.68 596.51,347.71 596.76,347.47 597.02,347.42 597.28,347.29 597.54,347.11 597.79,346.34 598.05,345.63 598.31,345.26 598.57,344.4 598.82,343.08 599.08,340.95 599.34,338.87 599.6,335.48 599.85,330.73 600.11,325.15 600.37,319.9 600.63,318.16 600.88,320.97 601.14,326.51 601.4,331.88 601.66,336.12 601.91,338.99 602.17,341.39 602.43,342.42 602.69,343.36 602.95,343.47 603.2,343.86 603.46,344.32 603.72,345.54 603.98,346.36 604.23,346.99 604.49,347.03 604.75,347.22 605.01,347.44 605.26,347.81 605.52,347.99 605.78,348.16 606.04,348.22 606.29,348.7 606.55,348.59 606.81,348.77 607.07,348.28 607.32,348.67 607.58,348.69 607.84,349.06 608.1,349.07 608.35,349.27 608.61,349.52 608.87,349.57 609.13,349.38 609.38,349.02 609.64,348.78 609.9,348.7 610.16,348.74 610.41,349.27 610.67,349.45 610.93,349.7 611.19,349.51 611.44,349.33 611.7,349.36 611.96,349.38 612.22,349.31 612.47,349.32 612.73,349.18 612.99,349.61 613.25,349.34 613.51,349.3 613.76,348.78 614.02,348.56 614.28,348.45 614.54,348.78 614.79,349.31 615.05,349.15 615.31,349.12 615.57,348.87 615.82,349.13 616.08,349.69 616.34,349.78 616.6,349.8 616.85,349.17 617.11,349.22 617.37,349.21 617.63,349.43 617.88,349.3 618.14,349.44 618.4,349.23 618.66,349.05 618.91,348.92 619.17,349.13 619.43,349.36 619.69,349.66 619.94,349.45 620.2,349.27 620.46,349.2 620.72,349.26 620.97,349.66 621.23,349.45 621.49,349.37 621.75,349.18 622,349.26 622.26,349.66 622.52,349.85 622.78,349.88 623.04,349.4 623.29,349.59 623.55,349.33 623.81,349.6 624.07,349.55 624.32,349.48 624.58,349.29 624.84,349.16 625.1,349.37 625.35,349.33 625.61,349.42 625.87,349.24 626.13,349.49 626.38,349.1 626.64,349.42 626.9,349.55 627.16,349.8 627.41,349.8 627.67,349.5 627.93,349.69 628.19,349.77 628.44,349.74 628.7,349.51 628.96,349.43 629.22,349.41 629.47,349.57 629.73,349.13 629.99,349.34 630.25,349.04 630.5,349.42 630.76,349.12 631.02,349.26 631.28,349.37 631.53,349.5 631.79,349.32 632.05,349.21 632.31,348.89 632.56,348.87 632.82,348.6 633.08,348.74 633.34,348.69 633.6,348.96 633.85,348.9 634.11,349.15 634.37,349.09 634.63,349.13 634.88,348.9 635.14,349.11 635.4,349.41 635.66,349.73 635.91,349.34 636.17,349.35 636.43,349.19 636.69,349.51 636.94,349.54 637.2,349.43 637.46,349.48 637.72,349.38 637.97,349.59 638.23,349.48 638.49,349.71 638.75,349.42 639,349.64 639.26,349.63 639.52,349.9 639.78,349.61 640.03,349.53 640.29,349.74 640.55,349.84 640.81,349.88 641.06,349.71 641.32,349.35 641.58,349.54 641.84,349.42 642.09,349.64 642.35,349.35 642.61,349.41 642.87,349.29 643.12,349.25 643.38,349.49 643.64,349.74 643.9,349.64 644.16,349.41 644.41,349.44 644.67,349.48 644.93,349.49 645.19,349.37 645.44,349.29 645.7,349.31 645.96,349.61 646.22,349.49 646.47,349.31 646.73,349.17 646.99,349.65 647.25,349.71 647.5,349.54 647.76,349.21 648.02,349.15 648.28,349.26 648.53,349.42 648.79,349.74 649.05,349.79 649.31,349.8 649.56,349.36 649.82,349.45 650.08,349.05 650.34,349.08 650.59,348.94 650.85,349.36 651.11,349.48 651.37,349.32 651.62,349.09 651.88,349.43 652.14,349.56 652.4,349.59 652.65,349.14 652.91,349 653.17,349.1 653.43,349.2 653.68,349.37 653.94,349.05 654.2,348.95 654.46,348.79 654.72,349.18 654.97,349.34 655.23,349.35 655.49,349.23 655.75,348.94 656,348.65 656.26,348.49 656.52,348.97 656.78,349.2 657.03,349.46 657.29,349.25 657.55,349.04 657.81,349.24 658.06,349.48 658.32,349.92 658.58,349.49 658.84,349.32 659.09,349.54 659.35,349.61 659.61,349.42 659.87,348.87 660.12,348.92 660.38,348.83 660.64,349.14 660.9,349 661.15,348.99 661.41,348.93 661.67,349.14 661.93,349.13 662.18,349.2 662.44,349.29 662.7,349.48 662.96,349.25 663.21,348.94 663.47,349.02 663.73,349.02 663.99,349.32 664.25,349.43 664.5,349.09 664.76,349.05 665.02,349.1 665.28,349.46 665.53,349.45 665.79,349.05 666.05,349.52 666.31,349.57 666.56,349.49 666.82,348.99 667.08,348.93 667.34,348.82 667.59,348.66 667.85,348.53 668.11,348.55 668.37,348.57 668.62,348.67 668.88,348.92 669.14,348.92 669.4,348.79 669.65,348.81 669.91,348.78 670.17,348.31 670.43,347.83 670.68,347.71 670.94,348.05 671.2,347.76 671.46,347.5 671.71,346.91 671.97,347.13 672.23,347.31 672.49,347.6 672.74,347.91 673,348.1 673.26,348.45 673.52,348.84 673.77,348.68 674.03,348.43 674.29,348.23 674.55,348.53 674.81,348.37 675.06,348.21 675.32,348.23 675.58,348.85 675.84,348.66 676.09,348.37 676.35,348.31 676.61,348.48 676.87,348.85 677.12,348.75 677.38,348.67 677.64,348.53 677.9,348.57 678.15,348.98 678.41,348.81 678.67,348.69 678.93,348.61 679.18,348.31 679.44,348.35 679.7,348.18 679.96,348.4 680.21,348.27 680.47,348.09 680.73,348.01 680.99,347.95 681.24,348.02 681.5,348.03 681.76,347.64 682.02,347.33 682.27,346.84 682.53,346.81 682.79,346.76 683.05,346.74 683.3,346.5 683.56,346.09 683.82,345.78 684.08,345.13 684.33,344.35 684.59,343.61 684.85,342.95 685.11,342.02 685.37,340.76 685.62,339.25 685.88,337.6 686.14,335.12 686.4,331.93 686.65,327.66 686.91,323.42 687.17,317.52 687.43,311.06 687.68,304.88 687.94,301.03 688.2,301.65 688.46,305.39 688.71,311.87 688.97,317.97 689.23,323.81 689.49,328.78 689.74,333.08 690,336.06 690.26,338.17 690.52,339.92 690.77,341.06 691.03,342.82 691.29,343.62 691.55,344.73 691.8,344.87 692.06,345.25 692.32,345.43 692.58,345.93 692.83,346.58 693.09,347.26 693.35,347.46 693.61,347.55 693.86,347.6 694.12,347.74 694.38,347.73 694.64,347.65 694.89,347.66 695.15,348 695.41,348.38 695.67,348.63 695.93,348.57 696.18,348.38 696.44,348.19 696.7,348.1 696.96,348.03 697.21,348.4 697.47,348.49 697.73,348.59 697.99,348.47 698.24,348.62 698.5,348.98 698.76,348.84 699.02,348.62 699.27,348.17 699.53,348.03 699.79,348.15 700.05,348.59 700.3,349.1 700.56,349.24 700.82,348.85 701.08,348.75 701.33,348.79 701.59,349.17 701.85,349.09 702.11,349.11 702.36,349.22 702.62,349.41 702.88,349.06 703.14,348.95 703.39,348.76 703.65,348.91 703.91,349.25 704.17,349.27 704.42,349.58 704.68,349.32 704.94,349.73 705.2,349.4 705.46,349.31 705.71,349.16 705.97,349.09 706.23,349.27 706.49,348.87 706.74,349.11 707,348.56 707.26,349.02 707.52,348.92 707.77,349.54 708.03,349.56 708.29,349.76 708.55,349.59 708.8,349.58 709.06,349.4 709.32,349.07 709.58,348.74 709.83,348.95 710.09,348.89 710.35,349.31 710.61,348.89 710.86,349.27 711.12,349.16 711.38,349.45 711.64,349.43 711.89,349.08 712.15,348.97 712.41,349.03 712.67,349.06 712.92,349.23 713.18,349.35 713.44,349.72 713.7,349.85 713.95,349.63 714.21,349.49 714.47,349.19 714.73,349.47 714.98,349.4 715.24,349.46 715.5,349.18" fill="none" stroke="#ff0000" stroke-width="1.2" stroke-linejoin="round"/>
<polyline points="561.22,404.55 561.37,404.91 561.53,406.19 561.68,402.78 561.84,407.3 561.99,405.26 562.15,404.1 562.3,404.43 562.46,404.47 562.61,406.57 562.76,402.87 562.92,406.18 563.07,405.33 563.23,405.26 563.38,405.27 563.54,405.94 563.69,403.27 563.85,405.17 564,403.98 564.15,407.27 564.31,404.48 564.46,405.53 564.62,404.73 564.77,404.97 564.93,404.68 565.08,405.36 565.24,405.14 565.39,405.06 565.54,404.94 565.7,405.17 565.85,405.72 566.01,404.67 566.16,406.32 566.32,402.59 566.47,404.13 566.63,403.27 566.78,405.38 566.93,406.87 567.09,407.16 567.24,406.23 567.4,406.02 567.55,405.72 567.71,405.69 567.86,404.42 568.02,408.24 568.17,403.08 568.32,405.66 568.48,405.02 568.63,407.5 568.79,404.9 568.94,407.06 569.1,404.57 569.25,404.85 569.41,404.98 569.56,405.42 569.71,405.55 569.87,405.61 570.02,404.04 570.18,405.09 570.33,404.88 570.49,402.13 570.64,405.07 570.79,406.35 570.95,408.04 571.1,408.29 571.26,405.02 571.41,404.05 571.57,406.49 571.72,406.64 571.88,405.4 572.03,404.97 572.18,403.96 572.34,405.29 572.49,405.96 572.65,404.26 572.8,406.34 572.96,406.97 573.11,406.54 573.27,405.53 573.42,405.65 573.57,405.11 573.73,405.04 573.88,402.06 574.04,404.56 574.19,407.82 574.35,406.88 574.5,404.85 574.66,406.12 574.81,402.27 574.96,405.61 575.12,405.52 575.27,404.86 575.43,405.31 575.58,404.29 575.74,405.31 575.89,404.56 576.05,405.73 576.2,408.3 576.35,404.36 576.51,402.76 576.66,406.08 576.82,405.54 576.97,403.77 577.13,405.42 577.28,404.57 577.44,404.97 577.59,403.85 577.74,404.75 577.9,401.94 578.05,404.4 578.21,404.72 578.36,406.16 578.52,404.11 578.67,405.35 578.83,403.22 578.98,403.23 579.13,400.47 579.29,404.78 579.44,403.51 579.6,402.28 579.75,406.16 579.91,402.73 580.06,401.22 580.22,403.53 580.37,403.7 580.52,402.16 580.68,403.46 580.83,403.53 580.99,402.89 581.14,405.07 581.3,401.69 581.45,404.66 581.61,404.28 581.76,404.84 581.91,407.7 582.07,406.52 582.22,404.94 582.38,404.52 582.53,403.06 582.69,401.16 582.84,403.66 583,404.75 583.15,405.45 583.3,402.84 583.46,405.45 583.61,404.69 583.77,402.93 583.92,404.83 584.08,404.84 584.23,404.47 584.39,406.74 584.54,404.79 584.69,404.42 584.85,404.16 585,405.09 585.16,407.4 585.31,405.62 585.47,403.61 585.62,405.57 585.78,405.7 585.93,403.84 586.08,403.78 586.24,404.25 586.39,403.64 586.55,403.34 586.7,403.7 586.86,403.84 587.01,401.86 587.16,405.58 587.32,401.2 587.47,403.62 587.63,404.79 587.78,402.81 587.94,402.22 588.09,404.88 588.25,402.85 588.4,401.69 588.55,401.35 588.71,401.9 588.86,402.82 589.02,401.02 589.17,397.59 589.33,401.2 589.48,395.97 589.64,400.06 589.79,400.48 589.94,401.57 590.1,401.19 590.25,401.62 590.41,403.61 590.56,400.04 590.72,401.39 590.87,402.68 591.03,405.02 591.18,403.99 591.33,403.86 591.49,402.7 591.64,403.95 591.8,405.33 591.95,404.17 592.11,404.23 592.26,403.98 592.42,402.91 592.57,404.97 592.72,406.02 592.88,402.54 593.03,402.82 593.19,405.62 593.34,403.12 593.5,404.71 593.65,403.15 593.81,403.35 593.96,405.8 594.11,405.33 594.27,404.17 594.42,405.73 594.58,405.44 594.73,405.02 594.89,404.08 595.04,403.95 595.2,404.77 595.35,404.05 595.5,402.17 595.66,402.91 595.81,403.05 595.97,404.4 596.12,404.31 596.28,404.93 596.43,404.37 596.59,405.51 596.74,403.27 596.89,403.47 597.05,403.71 597.2,403.48 597.36,404.16 597.51,401.4 597.67,401.31 597.82,400.31 597.98,401.11 598.13,401.42 598.28,399.66 598.44,401.93 598.59,401.55 598.75,397.9 598.9,397.63 599.06,396.91 599.21,394.27 599.37,394.47 599.52,392.17 599.67,389.49 599.83,388.54 599.98,382.97 600.14,378.68 600.29,375.59 600.45,373.39 600.6,372.34 600.76,375.24 600.91,376.5 601.06,377.62 601.22,381.75 601.37,387.04 601.53,390.9 601.68,390.83 601.84,392.87 601.99,395.14 602.15,398 602.3,397.06 602.45,397.69 602.61,400.13 602.76,401.16 602.92,401.07 603.07,400.66 603.23,400.74 603.38,400.89 603.54,401.78 603.69,402.66 603.84,401.75 604,401.03 604.15,402.26 604.31,401.72 604.46,402.8 604.62,403.72 604.77,403.38 604.92,403.17 605.08,404.96 605.23,403.31 605.39,403.92 605.54,402.94 605.7,402.26 605.85,403.1 606.01,403.81 606.16,403.04 606.31,404.72 606.47,402.75 606.62,401.74 606.78,402.74 606.93,401.61 607.09,404.04 607.24,405.77 607.4,402.8 607.55,400.68 607.7,404.61 607.86,401.56 608.01,404.24 608.17,401.63 608.32,404.36 608.48,403.94 608.63,403.05 608.79,405.6 608.94,403.51 609.09,403.82 609.25,402.51 609.4,403.38 609.56,403.53 609.71,403.85 609.87,401.3 610.02,403.07 610.18,403.47 610.33,406.4 610.48,401.82 610.64,403.69 610.79,403.4 610.95,402.68 611.1,403.44 611.26,401.93 611.41,403.74 611.57,403.06 611.72,403.51 611.87,402.95 612.03,403.37 612.18,403.2 612.34,403.45 612.49,403.54 612.65,403.01 612.8,404.67 612.96,404.78 613.11,403.84 613.26,403.71 613.42,402.28 613.57,405.75 613.73,402.06 613.88,404.57 614.04,404.96 614.19,403.5 614.35,403.51 614.5,402.71 614.65,406.55 614.81,402.54 614.96,403.41 615.12,402.17 615.27,404.24 615.43,405.85 615.58,404.32 615.74,404.29 615.89,403.15 616.04,402.87 616.2,406.63 616.35,406.03 616.51,403.91 616.66,404.96 616.82,402.83 616.97,402.4 617.13,401.39 617.28,403.97 617.43,402.72 617.59,403.3 617.74,403.89 617.9,404.63 618.05,402.79 618.21,403.16 618.36,404.26 618.52,404.41 618.67,406.42 618.82,403.82 618.98,404.06 619.13,405.51 619.29,402.56 619.44,404.21 619.6,405.58 619.75,404.61 619.91,405.69 620.06,405.28 620.21,405.92 620.37,404.17 620.52,406.36 620.68,405.19 620.83,404.32 620.99,404.65 621.14,404.21 621.29,405.33 621.45,405.2 621.6,404.02 621.76,404.9 621.91,403.28 622.07,405.03 622.22,404.31 622.38,404.86 622.53,403.17 622.68,405.66 622.84,403.5 622.99,403.07 623.15,403.86 623.3,402.84 623.46,405.7 623.61,406.67 623.77,405.36 623.92,405.14 624.07,404.05 624.23,405.3 624.38,405.21 624.54,404.92 624.69,402.5 624.85,405.4 625,404.68 625.16,404.22 625.31,402.66 625.46,406.22 625.62,406.83 625.77,404.74 625.93,405.7 626.08,405.45 626.24,407.16 626.39,402.67 626.55,406.58 626.7,404.13 626.85,403.97 627.01,403.66 627.16,402.7 627.32,405.3 627.47,406.25 627.63,404.33 627.78,403.55 627.94,404.89 628.09,405.07 628.24,403.27 628.4,406.03 628.55,402.4 628.71,406.68 628.86,405.86 629.02,404.92 629.17,405.87 629.33,403.84 629.48,405.62 629.63,405.45 629.79,405.2 629.94,403.4 630.1,404.87 630.25,405.07 630.41,403.39 630.56,405.92 630.72,406.47 630.87,404.9 631.02,404.31 631.18,406.08 631.33,405.15 631.49,404.42 631.64,405.13 631.8,404.53 631.95,404.97 632.11,403.14 632.26,406.65 632.41,402.79 632.57,407.27 632.72,404.49 632.88,404.04 633.03,401.62 633.19,403.33 633.34,407.13 633.5,404.45 633.65,406.39 633.8,403.62 633.96,402.99 634.11,403.65 634.27,405.36 634.42,404.82 634.58,406.74 634.73,404.65 634.89,407.71 635.04,405.42 635.19,405.58 635.35,406.46 635.5,404.43 635.66,404.72 635.81,403.09 635.97,405.28 636.12,404.56 636.28,406.32 636.43,403.46 636.58,405.77 636.74,405.88 636.89,406.72 637.05,404.12 637.2,404.71 637.36,405.54 637.51,404.64 637.67,403.85 637.82,404.91 637.97,404.3 638.13,405.3 638.28,404.42 638.44,403.8 638.59,404.78 638.75,406.69 638.9,404.42 639.05,402.4 639.21,406.34 639.36,406.1 639.52,404.95 639.67,406.1 639.83,406.02 639.98,407.52 640.14,406.67 640.29,404.9 640.44,408.78 640.6,404.32 640.75,407.09 640.91,403.08 641.06,405.19 641.22,405.15 641.37,407 641.53,403.62 641.68,405.44 641.83,406.47 641.99,404.05 642.14,404.34 642.3,403.1 642.45,406.31 642.61,405.31 642.76,406.02 642.92,406.91 643.07,405.98 643.22,405.86 643.38,405.35 643.53,405.18 643.69,405.39 643.84,405.02 644,405.58 644.15,405.45 644.31,404.93 644.46,403.01 644.61,405.41 644.77,406.03 644.92,402.09 645.08,404.61 645.23,405.57 645.39,405 645.54,407.46 645.7,405.54 645.85,406.04 646,405.76 646.16,406.38 646.31,405.3 646.47,403.09 646.62,405.94 646.78,404.75 646.93,403.54 647.09,404.91 647.24,405.99 647.39,404.18 647.55,403.94 647.7,406.05 647.86,406.21 648.01,406.84 648.17,405.64 648.32,405.39 648.48,405.75 648.63,405.59 648.78,404.61 648.94,404.73 649.09,402.49 649.25,406.92 649.4,406.86 649.56,405.93 649.71,404.72 649.87,403.36 650.02,404.13 650.17,403.92 650.33,406.77 650.48,404.84 650.64,403.14 650.79,404.4 650.95,405.9 651.1,408.82 651.26,405.13 651.41,404.67 651.56,403.5 651.72,404.96 651.87,406.83 652.03,403.96 652.18,405.98 652.34,404.61 652.49,404.23 652.65,405.82 652.8,403.87 652.95,406.9 653.11,403.58 653.26,406.82 653.42,406.83 653.57,405.63 653.73,405.52 653.88,404.96 654.04,404.66 654.19,405.5 654.34,406.4 654.5,404.07 654.65,407.6 654.81,404.14 654.96,406.71 655.12,405.2 655.27,404.73 655.43,407.48 655.58,405.14 655.73,404.88 655.89,405.59 656.04,404.02 656.2,404.83 656.35,406.11 656.51,405.93 656.66,406.01 656.81,407.21 656.97,403.85 657.12,407.75 657.28,403.85 657.43,402.61 657.59,403.69 657.74,404.53 657.9,405.15 658.05,405.86 658.2,405.44 658.36,403.36 658.51,405.78 658.67,404.98 658.82,403.62 658.98,404.72 659.13,404.78 659.29,404.7 659.44,405.37 659.59,403.7 659.75,404.27 659.9,404.7 660.06,405.45 660.21,404.31 660.37,405.25 660.52,406.64 660.68,404.61 660.83,408.07 660.98,404.38 661.14,405.55 661.29,405.53 661.45,405.86 661.6,403.52 661.76,404.85 661.91,405.97 662.07,405.38 662.22,405.79 662.37,403.33 662.53,405.7 662.68,405.62 662.84,405.09 662.99,405.42 663.15,406.65 663.3,404.27 663.46,405.19 663.61,404.5 663.76,407.92 663.92,405.61 664.07,404.9 664.23,404.72 664.38,406.36 664.54,402.2 664.69,403.61 664.85,404.76 665,407.04 665.15,407.65 665.31,403.83 665.46,403.66 665.62,407.6 665.77,404.05 665.93,403.63 666.08,405.92 666.24,405.64 666.39,405.65 666.54,406.22 666.7,402.66 666.85,405.81 667.01,405.95 667.16,404.38 667.32,403.04 667.47,404.73 667.63,406.92 667.78,404.85 667.93,405.97 668.09,407.69 668.24,404.97 668.4,405.38 668.55,406.39 668.71,407.08 668.86,403.55 669.02,405.48 669.17,405.9 669.32,405.66 669.48,404.36 669.63,405.97 669.79,404.04 669.94,404.98 670.1,405.11 670.25,405.27 670.41,406.47 670.56,403.75 670.71,405.02 670.87,405.82 671.02,406.01 671.18,404.4 671.33,402.67 671.49,404.58 671.64,406.48 671.8,405.98 671.95,406.72 672.1,406.1 672.26,405.56 672.41,405.73 672.57,404.43 672.72,405.36 672.88,404.64 673.03,404.74 673.18,406.04 673.34,404.19 673.49,404.9 673.65,404.36 673.8,406.54 673.96,404.87 674.11,404.6 674.27,406.26 674.42,404.01 674.57,405.48 674.73,405.35 674.88,404.66 675.04,407.29 675.19,408.11 675.35,405.73 675.5,404.8 675.66,403.96 675.81,404.12 675.96,402.35 676.12,404.3 676.27,405.5 676.43,404.99 676.58,405.93 676.74,404.42 676.89,405.75 677.05,406.02 677.2,405.89 677.35,406.71 677.51,406.15 677.66,405.37 677.82,405.23 677.97,405.28 678.13,403.85 678.28,405.88 678.44,404.68 678.59,405.62 678.74,404.47 678.9,404 679.05,405.72 679.21,405.73 679.36,404.09 679.52,405.49 679.67,404.29 679.83,404.48 679.98,404.15 680.13,405.03 680.29,404.13 680.44,404.52 680.6,403.61 680.75,402.9 680.91,403.29 681.06,403.86 681.22,403.79 681.37,402.93 681.52,403.99 681.68,403.86 681.83,402.51 681.99,400.95 682.14,404 682.3,401.06 682.45,403.4 682.61,402.72 682.76,403.24 682.91,403 683.07,399.71 683.22,402.84 683.38,401.69 683.53,402.84 683.69,400.63 683.84,402.08 684,402.6 684.15,401.5 684.3,400.21 684.46,401.43 684.61,400.32 684.77,401.79 684.92,395.34 685.08,398.19 685.23,396.81 685.39,397.26 685.54,394.18 685.69,395.32 685.85,391.11 686,391.86 686.16,391.25 686.31,388.46 686.47,388.17 686.62,382.93 686.78,376.62 686.93,374.59 687.08,374.2 687.24,370.56 687.39,369.2 687.55,360.96 687.7,360.24 687.86,357.86 688.01,356.03 688.17,356.2 688.32,359.83 688.47,359.65 688.63,365.27 688.78,367.25 688.94,373.42 689.09,374.09 689.25,379.52 689.4,382.8 689.56,383.94 689.71,387.83 689.86,389.24 690.02,387.75 690.17,392.26 690.33,391.71 690.48,395.85 690.64,394.54 690.79,397.87 690.94,396.66 691.1,398 691.25,398.23 691.41,397.74 691.56,399.31 691.72,399.75 691.87,401.52 692.03,402.57 692.18,399.2 692.33,402.09 692.49,400.74 692.64,402.39 692.8,402.06 692.95,400.84 693.11,401.91 693.26,402.58 693.42,403.55 693.57,401.41 693.72,401.95 693.88,404.03 694.03,403.92 694.19,403.82 694.34,401.65 694.5,404.44 694.65,403.81 694.81,403.59 694.96,403.84 695.11,405.09 695.27,403.79 695.42,404.85 695.58,402.83 695.73,405.3 695.89,405.43 696.04,404.31 696.2,404.54 696.35,403.16 696.5,405.11 696.66,402.98 696.81,403.83 696.97,404.08 697.12,404.23 697.28,405.16 697.43,401.7 697.59,404.53 697.74,404.51 697.89,402.5 698.05,405.88 698.2,401.76 698.36,404 698.51,404.04 698.67,405.14 698.82,405.39 698.98,405.54 699.13,403.76 699.28,404.08 699.44,406.49 699.59,405.8 699.75,404.71 699.9,401.73 700.06,403.34 700.21,405.28 700.37,404.41 700.52,405.5 700.67,404.64 700.83,405.64 700.98,404.44 701.14,406.05 701.29,406.03 701.45,402.09 701.6,405.7 701.76,405.63 701.91,403.47 702.06,402.58 702.22,402.23 702.37,404.24 702.53,406.12 702.68,405.16 702.84,405.94 702.99,404.82 703.15,405.08 703.3,405.71 703.45,403.76 703.61,405.12 703.76,404.21 703.92,405.36 704.07,406.01 704.23,405.48 704.38,404.06 704.54,402.26 704.69,404.64 704.84,405.41 705,405.5 705.15,404.29 705.31,404.97 705.46,404.57 705.62,404.46 705.77,405.22 705.93,407.67 706.08,405.18 706.23,405.46 706.39,405.59 706.54,407.1 706.7,405.89 706.85,405.69 707.01,405.74 707.16,405.63 707.31,407.51 707.47,405.54 707.62,405.38 707.78,407.62 707.93,404.32 708.09,405.76 708.24,405.1 708.4,404.11 708.55,405.54 708.7,406.2 708.86,404 709.01,404.06 709.17,405.21 709.32,405.56 709.48,406.33 709.63,405.76 709.79,406.59 709.94,403.92 710.09,404.8 710.25,406.36 710.4,404.97 710.56,404.48 710.71,404.58 710.87,405.47 711.02,406.46 711.18,405.67 711.33,405.05 711.48,406.55 711.64,404.82 711.79,408.91 711.95,404.12 712.1,404.22 712.26,403.4 712.41,406.61 712.57,404.09 712.72,406.72 712.87,406.32 713.03,405.55 713.18,405.87 713.34,405.51 713.49,406.58 713.65,406.01 713.8,402.81 713.96,406.9 714.11,406.48 714.26,404.9 714.42,404.47 714.57,406.31 714.73,406.04 714.88,405.77 715.04,404.5 715.19,406.92 715.35,405.42 715.5,405.34" fill="none" stroke="#000000" stroke-width="1.3" stroke-linejoin="round"/>
<g id="e_s400" transform="matrix(0.98 0 0 0.96 630.18 343.18)"><text x="0" y="0" font-size="10.5" font-weight="bold" fill="#000" font-family='"Liberation Sans", sans-serif' stroke="#000" stroke-width="0.22">400</text></g>
<g id="e_sRT" transform="matrix(0.94 0 0 0.97 632.26 396.65)"><text x="0" y="0" font-size="10.5" font-weight="bold" fill="#000" font-family='"Liberation Sans", sans-serif' stroke="#000" stroke-width="0.22">RT</text></g>
<g id="e_yl" transform="matrix(1.02 0 0 1.1 540.9 394.87)"><text x="0" y="0" transform="rotate(-90)" font-size="11" font-weight="bold" fill="#000" font-family='"Liberation Sans", sans-serif' stroke="#000" stroke-width="0.22">Intensity(a.u.)</text></g>
<g id="e_xl1" transform="matrix(1.03 0 0 0.88 596.74 438.02)"><text x="0" y="0" font-size="11.5" font-weight="bold" fill="#000" font-family='"Liberation Sans", sans-serif' stroke="#000" stroke-width="0.22">Raman shift</text></g>
<g id="e_xl2" transform="matrix(1.03 0 0 0.9 664.6 437.75)"><text x="0" y="0" font-size="11.5" font-weight="bold" fill="#000" font-family='"Liberation Sans", sans-serif' stroke="#000" stroke-width="0.22">(</text></g>
<g id="e_xl3" transform="matrix(1.09 0 0 0.96 668.47 437.77)"><text x="0" y="0" font-size="11.5" font-weight="bold" fill="#000" font-family='"Liberation Sans", sans-serif' stroke="#000" stroke-width="0.22">cm</text></g>
<g id="e_xl4" transform="matrix(1.12 0 0 1.41 686.95 434.12)"><text x="0" y="0" font-size="9" font-weight="bold" fill="#000" font-family='"Liberation Sans", sans-serif' stroke="#000" stroke-width="0.12">-1</text></g>
<g id="e_xl5" transform="matrix(0.85 0 0 0.97 696.82 437.57)"><text x="0" y="0" font-size="11.5" font-weight="bold" fill="#000" font-family='"Liberation Sans", sans-serif' stroke="#000" stroke-width="0.22">)</text></g>
<g id="e_lab" transform="matrix(1.01 0 0 0.94 519.78 305.88)"><text x="0" y="0" font-size="20" font-weight="normal" fill="#000" font-family='"Liberation Serif", serif' stroke="#000" stroke-width="0.45">(e)</text></g>
</svg></body></html>
